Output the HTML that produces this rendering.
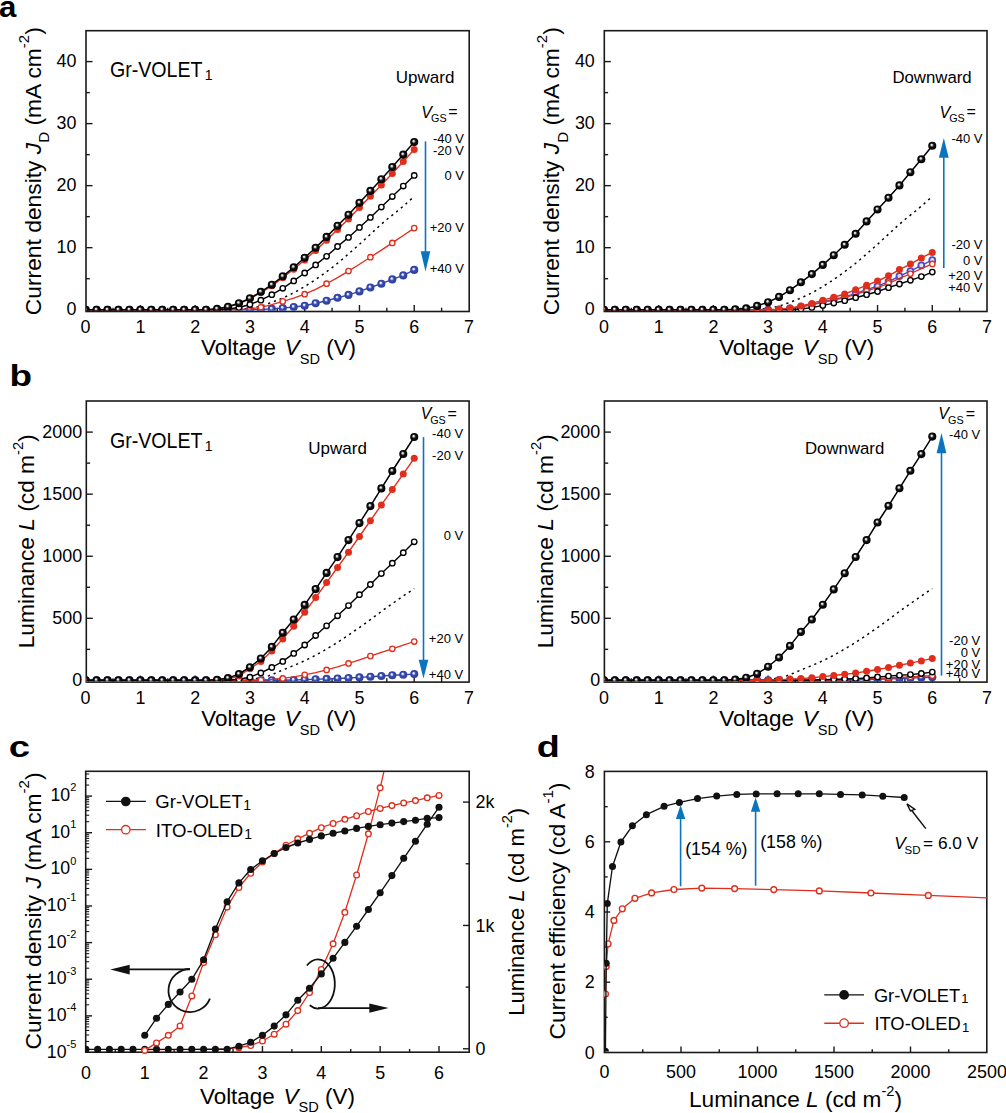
<!DOCTYPE html><html><head><meta charset="utf-8"><style>html,body{margin:0;padding:0;background:#fff;overflow:hidden;}svg{display:block;}</style></head><body>
<svg width="1006" height="1113" viewBox="0 0 1006 1113" font-family='"Liberation Sans", sans-serif' fill="#000">
<defs><radialGradient id="gk" cx="0.5" cy="0.5" r="0.5" fx="0.4" fy="0.36"><stop offset="0" stop-color="#fafafa"/><stop offset="0.19" stop-color="#d4d4d4"/><stop offset="0.4" stop-color="#3c3c3c"/><stop offset="0.55" stop-color="#0e0e0e"/><stop offset="1" stop-color="#000"/></radialGradient><radialGradient id="gb" cx="0.5" cy="0.5" r="0.5" fx="0.4" fy="0.36"><stop offset="0" stop-color="#ffffff"/><stop offset="0.2" stop-color="#d8dcf6"/><stop offset="0.42" stop-color="#4e5fbe"/><stop offset="0.55" stop-color="#3447ab"/><stop offset="1" stop-color="#2e3f9f"/></radialGradient></defs>
<rect width="1006" height="1113" fill="#fff"/>
<rect x="86" y="30.7" width="383.2" height="280.8" fill="none" stroke="#1a1a1a" stroke-width="1.6"/>
<line x1="140.37" y1="311.5" x2="140.37" y2="305" stroke="#1a1a1a" stroke-width="1.4" />
<line x1="195.14" y1="311.5" x2="195.14" y2="305" stroke="#1a1a1a" stroke-width="1.4" />
<line x1="249.91" y1="311.5" x2="249.91" y2="305" stroke="#1a1a1a" stroke-width="1.4" />
<line x1="304.68" y1="311.5" x2="304.68" y2="305" stroke="#1a1a1a" stroke-width="1.4" />
<line x1="359.45" y1="311.5" x2="359.45" y2="305" stroke="#1a1a1a" stroke-width="1.4" />
<line x1="414.22" y1="311.5" x2="414.22" y2="305" stroke="#1a1a1a" stroke-width="1.4" />
<line x1="112.98" y1="311.5" x2="112.98" y2="307.7" stroke="#1a1a1a" stroke-width="1.4" />
<line x1="167.75" y1="311.5" x2="167.75" y2="307.7" stroke="#1a1a1a" stroke-width="1.4" />
<line x1="222.53" y1="311.5" x2="222.53" y2="307.7" stroke="#1a1a1a" stroke-width="1.4" />
<line x1="277.3" y1="311.5" x2="277.3" y2="307.7" stroke="#1a1a1a" stroke-width="1.4" />
<line x1="332.06" y1="311.5" x2="332.06" y2="307.7" stroke="#1a1a1a" stroke-width="1.4" />
<line x1="386.84" y1="311.5" x2="386.84" y2="307.7" stroke="#1a1a1a" stroke-width="1.4" />
<line x1="441.61" y1="311.5" x2="441.61" y2="307.7" stroke="#1a1a1a" stroke-width="1.4" />
<line x1="86" y1="309.7" x2="92.5" y2="309.7" stroke="#1a1a1a" stroke-width="1.4" />
<line x1="86" y1="247.67" x2="92.5" y2="247.67" stroke="#1a1a1a" stroke-width="1.4" />
<line x1="86" y1="185.65" x2="92.5" y2="185.65" stroke="#1a1a1a" stroke-width="1.4" />
<line x1="86" y1="123.62" x2="92.5" y2="123.62" stroke="#1a1a1a" stroke-width="1.4" />
<line x1="86" y1="61.6" x2="92.5" y2="61.6" stroke="#1a1a1a" stroke-width="1.4" />
<line x1="86" y1="278.69" x2="89.8" y2="278.69" stroke="#1a1a1a" stroke-width="1.4" />
<line x1="86" y1="216.66" x2="89.8" y2="216.66" stroke="#1a1a1a" stroke-width="1.4" />
<line x1="86" y1="154.64" x2="89.8" y2="154.64" stroke="#1a1a1a" stroke-width="1.4" />
<line x1="86" y1="92.61" x2="89.8" y2="92.61" stroke="#1a1a1a" stroke-width="1.4" />
<text x="85.6" y="333.2" font-size="17.9" text-anchor="middle" >0</text>
<text x="140.37" y="333.2" font-size="17.9" text-anchor="middle" >1</text>
<text x="195.14" y="333.2" font-size="17.9" text-anchor="middle" >2</text>
<text x="249.91" y="333.2" font-size="17.9" text-anchor="middle" >3</text>
<text x="304.68" y="333.2" font-size="17.9" text-anchor="middle" >4</text>
<text x="359.45" y="333.2" font-size="17.9" text-anchor="middle" >5</text>
<text x="414.22" y="333.2" font-size="17.9" text-anchor="middle" >6</text>
<text x="468.99" y="333.2" font-size="17.9" text-anchor="middle" >7</text>
<text x="76.5" y="315" font-size="17.9" text-anchor="end" >0</text>
<text x="76.5" y="252.97" font-size="17.9" text-anchor="end" >10</text>
<text x="76.5" y="190.95" font-size="17.9" text-anchor="end" >20</text>
<text x="76.5" y="128.93" font-size="17.9" text-anchor="end" >30</text>
<text x="76.5" y="66.9" font-size="17.9" text-anchor="end" >40</text>
<text x="278.6" y="355.2" font-size="22.3" text-anchor="middle" textLength="155" lengthAdjust="spacingAndGlyphs">Voltage <tspan font-style="italic" dx="2.5">V</tspan><tspan font-size="14.5" dy="8.5">SD</tspan><tspan dy="-8.5"> (V)</tspan></text>
<text transform="translate(40.9,171.2) rotate(-90)" font-size="22" text-anchor="middle" textLength="288" lengthAdjust="spacingAndGlyphs">Current density <tspan font-style="italic">J</tspan><tspan font-size="14.5" dy="8.3">D</tspan><tspan dy="-8.3"> (mA cm</tspan><tspan font-size="14.5" dy="-11.8">-2</tspan><tspan dy="11.8">)</tspan></text>
<clipPath id="clipaL"><rect x="86" y="30.7" width="383.2" height="280.1"/></clipPath>
<g clip-path="url(#clipaL)">
<path d="M244.43,309.07 L247.17,308.7 L249.91,308.27 L252.65,307.79 L255.39,307.29 L258.13,306.75 L260.86,306.05 L263.6,305.19 L266.34,304.25 L269.08,303.27 L271.82,302.29 L274.56,301.28 L277.29,300.21 L280.03,299.1 L282.77,297.95 L285.51,296.74 L288.25,295.48 L290.99,294.17 L293.73,292.78 L296.46,291.3 L299.2,289.75 L301.94,288.14 L304.68,286.47 L307.42,284.76 L310.16,283.03 L312.9,281.26 L315.63,279.44 L318.37,277.57 L321.11,275.65 L323.85,273.69 L326.59,271.68 L329.33,269.64 L332.06,267.55 L334.8,265.43 L337.54,263.25 L340.28,261 L343.02,258.69 L345.76,256.34 L348.5,253.96 L351.23,251.55 L353.97,249.12 L356.71,246.7 L359.45,244.28 L362.19,241.82 L364.93,239.32 L367.67,236.78 L370.4,234.24 L373.14,231.69 L375.88,229.17 L378.62,226.67 L381.36,224.22 L384.1,221.83 L386.83,219.52 L389.57,217.31 L392.31,215.15 L395.05,212.99 L397.79,210.77 L400.53,208.48 L403.27,206.14 L406,203.76 L408.74,201.34 L411.48,198.89 L414.22,196.4" fill="none" stroke="#000" stroke-width="1.5" stroke-dasharray="2.2 3.9"/>
<path d="M85.6,309.7 L96.55,309.7 L107.51,309.7 L118.46,309.7 L129.42,309.7 L140.37,309.7 L151.32,309.7 L162.28,309.7 L173.23,309.7 L184.19,309.7 L195.14,309.7 L206.09,309.7 L217.05,309.7 L228,309.7 L238.96,309.7 L249.91,309.7 L260.86,309.44 L271.82,308.9 L282.77,308.09 L293.73,307 L304.68,305.7 L315.63,303.3 L326.59,300.7 L337.54,297.8 L348.5,294.9 L359.45,291.4 L370.4,287.5 L381.36,283.7 L392.31,279.4 L403.27,275.4 L414.22,269.9" fill="none" stroke="#3448ac" stroke-width="1.4" stroke-linejoin="round"/>
<circle cx="85.6" cy="309.7" r="4.05" fill="url(#gb)"/>
<circle cx="96.55" cy="309.7" r="4.05" fill="url(#gb)"/>
<circle cx="107.51" cy="309.7" r="4.05" fill="url(#gb)"/>
<circle cx="118.46" cy="309.7" r="4.05" fill="url(#gb)"/>
<circle cx="129.42" cy="309.7" r="4.05" fill="url(#gb)"/>
<circle cx="140.37" cy="309.7" r="4.05" fill="url(#gb)"/>
<circle cx="151.32" cy="309.7" r="4.05" fill="url(#gb)"/>
<circle cx="162.28" cy="309.7" r="4.05" fill="url(#gb)"/>
<circle cx="173.23" cy="309.7" r="4.05" fill="url(#gb)"/>
<circle cx="184.19" cy="309.7" r="4.05" fill="url(#gb)"/>
<circle cx="195.14" cy="309.7" r="4.05" fill="url(#gb)"/>
<circle cx="206.09" cy="309.7" r="4.05" fill="url(#gb)"/>
<circle cx="217.05" cy="309.7" r="4.05" fill="url(#gb)"/>
<circle cx="228" cy="309.7" r="4.05" fill="url(#gb)"/>
<circle cx="238.96" cy="309.7" r="4.05" fill="url(#gb)"/>
<circle cx="249.91" cy="309.7" r="4.05" fill="url(#gb)"/>
<circle cx="260.86" cy="309.44" r="4.05" fill="url(#gb)"/>
<circle cx="271.82" cy="308.9" r="4.05" fill="url(#gb)"/>
<circle cx="282.77" cy="308.09" r="4.05" fill="url(#gb)"/>
<circle cx="293.73" cy="307" r="4.05" fill="url(#gb)"/>
<circle cx="304.68" cy="305.7" r="4.05" fill="url(#gb)"/>
<circle cx="315.63" cy="303.3" r="4.05" fill="url(#gb)"/>
<circle cx="326.59" cy="300.7" r="4.05" fill="url(#gb)"/>
<circle cx="337.54" cy="297.8" r="4.05" fill="url(#gb)"/>
<circle cx="348.5" cy="294.9" r="4.05" fill="url(#gb)"/>
<circle cx="359.45" cy="291.4" r="4.05" fill="url(#gb)"/>
<circle cx="370.4" cy="287.5" r="4.05" fill="url(#gb)"/>
<circle cx="381.36" cy="283.7" r="4.05" fill="url(#gb)"/>
<circle cx="392.31" cy="279.4" r="4.05" fill="url(#gb)"/>
<circle cx="403.27" cy="275.4" r="4.05" fill="url(#gb)"/>
<circle cx="414.22" cy="269.9" r="4.05" fill="url(#gb)"/>
<path d="M85.6,309.7 L96.55,309.7 L107.51,309.7 L118.46,309.7 L129.42,309.7 L140.37,309.7 L151.32,309.7 L162.28,309.7 L173.23,309.7 L184.19,309.7 L195.14,309.7 L206.09,309.7 L217.05,309.7 L228,309.7 L238.96,309.7 L249.91,308.93 L260.86,307.3 L271.82,304.73 L282.77,301.4 L293.73,298.06 L304.68,294.2 L315.63,289.31 L326.59,283.7 L337.54,277.62 L348.5,271.1 L359.45,264.26 L370.4,257.2 L381.36,250.11 L392.31,242.9 L403.27,235.56 L414.22,228.1" fill="none" stroke="#df2e1c" stroke-width="1.3" stroke-linejoin="round"/>
<circle cx="85.6" cy="309.7" r="2.7" fill="#fff" stroke="#df2e1c" stroke-width="1.35"/>
<circle cx="107.51" cy="309.7" r="2.7" fill="#fff" stroke="#df2e1c" stroke-width="1.35"/>
<circle cx="129.42" cy="309.7" r="2.7" fill="#fff" stroke="#df2e1c" stroke-width="1.35"/>
<circle cx="151.32" cy="309.7" r="2.7" fill="#fff" stroke="#df2e1c" stroke-width="1.35"/>
<circle cx="173.23" cy="309.7" r="2.7" fill="#fff" stroke="#df2e1c" stroke-width="1.35"/>
<circle cx="195.14" cy="309.7" r="2.7" fill="#fff" stroke="#df2e1c" stroke-width="1.35"/>
<circle cx="217.05" cy="309.7" r="2.7" fill="#fff" stroke="#df2e1c" stroke-width="1.35"/>
<circle cx="238.96" cy="309.7" r="2.7" fill="#fff" stroke="#df2e1c" stroke-width="1.35"/>
<circle cx="260.86" cy="307.3" r="2.7" fill="#fff" stroke="#df2e1c" stroke-width="1.35"/>
<circle cx="282.77" cy="301.4" r="2.7" fill="#fff" stroke="#df2e1c" stroke-width="1.35"/>
<circle cx="304.68" cy="294.2" r="2.7" fill="#fff" stroke="#df2e1c" stroke-width="1.35"/>
<circle cx="326.59" cy="283.7" r="2.7" fill="#fff" stroke="#df2e1c" stroke-width="1.35"/>
<circle cx="348.5" cy="271.1" r="2.7" fill="#fff" stroke="#df2e1c" stroke-width="1.35"/>
<circle cx="370.4" cy="257.2" r="2.7" fill="#fff" stroke="#df2e1c" stroke-width="1.35"/>
<circle cx="392.31" cy="242.9" r="2.7" fill="#fff" stroke="#df2e1c" stroke-width="1.35"/>
<circle cx="414.22" cy="228.1" r="2.7" fill="#fff" stroke="#df2e1c" stroke-width="1.35"/>
<path d="M85.6,309.7 L96.55,309.7 L107.51,309.7 L118.46,309.7 L129.42,309.7 L140.37,309.7 L151.32,309.7 L162.28,309.7 L173.23,309.7 L184.19,309.7 L195.14,309.7 L206.09,309.7 L217.05,309.7 L228,309 L238.96,307.5 L249.91,304.5 L260.86,300.2 L271.82,294.7 L282.77,288.3 L293.73,280.9 L304.68,273 L315.63,264.9 L326.59,256.3 L337.54,246.5 L348.5,237.4 L359.45,227.4 L370.4,217.4 L381.36,207.1 L392.31,196.6 L403.27,186.1 L414.22,175.4" fill="none" stroke="#000" stroke-width="1.4" stroke-linejoin="round"/>
<circle cx="85.6" cy="309.7" r="2.7" fill="#fff" stroke="#000" stroke-width="1.4"/>
<circle cx="96.55" cy="309.7" r="2.7" fill="#fff" stroke="#000" stroke-width="1.4"/>
<circle cx="107.51" cy="309.7" r="2.7" fill="#fff" stroke="#000" stroke-width="1.4"/>
<circle cx="118.46" cy="309.7" r="2.7" fill="#fff" stroke="#000" stroke-width="1.4"/>
<circle cx="129.42" cy="309.7" r="2.7" fill="#fff" stroke="#000" stroke-width="1.4"/>
<circle cx="140.37" cy="309.7" r="2.7" fill="#fff" stroke="#000" stroke-width="1.4"/>
<circle cx="151.32" cy="309.7" r="2.7" fill="#fff" stroke="#000" stroke-width="1.4"/>
<circle cx="162.28" cy="309.7" r="2.7" fill="#fff" stroke="#000" stroke-width="1.4"/>
<circle cx="173.23" cy="309.7" r="2.7" fill="#fff" stroke="#000" stroke-width="1.4"/>
<circle cx="184.19" cy="309.7" r="2.7" fill="#fff" stroke="#000" stroke-width="1.4"/>
<circle cx="195.14" cy="309.7" r="2.7" fill="#fff" stroke="#000" stroke-width="1.4"/>
<circle cx="206.09" cy="309.7" r="2.7" fill="#fff" stroke="#000" stroke-width="1.4"/>
<circle cx="217.05" cy="309.7" r="2.7" fill="#fff" stroke="#000" stroke-width="1.4"/>
<circle cx="228" cy="309" r="2.7" fill="#fff" stroke="#000" stroke-width="1.4"/>
<circle cx="238.96" cy="307.5" r="2.7" fill="#fff" stroke="#000" stroke-width="1.4"/>
<circle cx="249.91" cy="304.5" r="2.7" fill="#fff" stroke="#000" stroke-width="1.4"/>
<circle cx="260.86" cy="300.2" r="2.7" fill="#fff" stroke="#000" stroke-width="1.4"/>
<circle cx="271.82" cy="294.7" r="2.7" fill="#fff" stroke="#000" stroke-width="1.4"/>
<circle cx="282.77" cy="288.3" r="2.7" fill="#fff" stroke="#000" stroke-width="1.4"/>
<circle cx="293.73" cy="280.9" r="2.7" fill="#fff" stroke="#000" stroke-width="1.4"/>
<circle cx="304.68" cy="273" r="2.7" fill="#fff" stroke="#000" stroke-width="1.4"/>
<circle cx="315.63" cy="264.9" r="2.7" fill="#fff" stroke="#000" stroke-width="1.4"/>
<circle cx="326.59" cy="256.3" r="2.7" fill="#fff" stroke="#000" stroke-width="1.4"/>
<circle cx="337.54" cy="246.5" r="2.7" fill="#fff" stroke="#000" stroke-width="1.4"/>
<circle cx="348.5" cy="237.4" r="2.7" fill="#fff" stroke="#000" stroke-width="1.4"/>
<circle cx="359.45" cy="227.4" r="2.7" fill="#fff" stroke="#000" stroke-width="1.4"/>
<circle cx="370.4" cy="217.4" r="2.7" fill="#fff" stroke="#000" stroke-width="1.4"/>
<circle cx="381.36" cy="207.1" r="2.7" fill="#fff" stroke="#000" stroke-width="1.4"/>
<circle cx="392.31" cy="196.6" r="2.7" fill="#fff" stroke="#000" stroke-width="1.4"/>
<circle cx="403.27" cy="186.1" r="2.7" fill="#fff" stroke="#000" stroke-width="1.4"/>
<circle cx="414.22" cy="175.4" r="2.7" fill="#fff" stroke="#000" stroke-width="1.4"/>
<path d="M85.6,309.7 L96.55,309.7 L107.51,309.7 L118.46,309.7 L129.42,309.7 L140.37,309.7 L151.32,309.7 L162.28,309.7 L173.23,309.7 L184.19,309.7 L195.14,309.7 L206.09,309.7 L217.05,308.84 L228,306.93 L238.96,303.49 L249.91,298.81 L260.86,292.61 L271.82,285.82 L282.77,277.8 L293.73,269.21 L304.68,260.04 L315.63,250.49 L326.59,240.18 L337.54,229.48 L348.5,218.97 L359.45,207.61 L370.4,196.25 L381.36,185.07 L392.31,173.42 L403.27,161.58 L414.22,149.55" fill="none" stroke="#df2e1c" stroke-width="1.4" stroke-linejoin="round"/>
<circle cx="85.6" cy="309.7" r="3.5" fill="#df2e1c"/>
<circle cx="96.55" cy="309.7" r="3.5" fill="#df2e1c"/>
<circle cx="107.51" cy="309.7" r="3.5" fill="#df2e1c"/>
<circle cx="118.46" cy="309.7" r="3.5" fill="#df2e1c"/>
<circle cx="129.42" cy="309.7" r="3.5" fill="#df2e1c"/>
<circle cx="140.37" cy="309.7" r="3.5" fill="#df2e1c"/>
<circle cx="151.32" cy="309.7" r="3.5" fill="#df2e1c"/>
<circle cx="162.28" cy="309.7" r="3.5" fill="#df2e1c"/>
<circle cx="173.23" cy="309.7" r="3.5" fill="#df2e1c"/>
<circle cx="184.19" cy="309.7" r="3.5" fill="#df2e1c"/>
<circle cx="195.14" cy="309.7" r="3.5" fill="#df2e1c"/>
<circle cx="206.09" cy="309.7" r="3.5" fill="#df2e1c"/>
<circle cx="217.05" cy="308.84" r="3.5" fill="#df2e1c"/>
<circle cx="228" cy="306.93" r="3.5" fill="#df2e1c"/>
<circle cx="238.96" cy="303.49" r="3.5" fill="#df2e1c"/>
<circle cx="249.91" cy="298.81" r="3.5" fill="#df2e1c"/>
<circle cx="260.86" cy="292.61" r="3.5" fill="#df2e1c"/>
<circle cx="271.82" cy="285.82" r="3.5" fill="#df2e1c"/>
<circle cx="282.77" cy="277.8" r="3.5" fill="#df2e1c"/>
<circle cx="293.73" cy="269.21" r="3.5" fill="#df2e1c"/>
<circle cx="304.68" cy="260.04" r="3.5" fill="#df2e1c"/>
<circle cx="315.63" cy="250.49" r="3.5" fill="#df2e1c"/>
<circle cx="326.59" cy="240.18" r="3.5" fill="#df2e1c"/>
<circle cx="337.54" cy="229.48" r="3.5" fill="#df2e1c"/>
<circle cx="348.5" cy="218.97" r="3.5" fill="#df2e1c"/>
<circle cx="359.45" cy="207.61" r="3.5" fill="#df2e1c"/>
<circle cx="370.4" cy="196.25" r="3.5" fill="#df2e1c"/>
<circle cx="381.36" cy="185.07" r="3.5" fill="#df2e1c"/>
<circle cx="392.31" cy="173.42" r="3.5" fill="#df2e1c"/>
<circle cx="403.27" cy="161.58" r="3.5" fill="#df2e1c"/>
<circle cx="414.22" cy="149.55" r="3.5" fill="#df2e1c"/>
<path d="M85.6,309.7 L96.55,309.7 L107.51,309.7 L118.46,309.7 L129.42,309.7 L140.37,309.7 L151.32,309.7 L162.28,309.7 L173.23,309.7 L184.19,309.7 L195.14,309.7 L206.09,309.7 L217.05,308.8 L228,306.8 L238.96,303.2 L249.91,298.3 L260.86,291.8 L271.82,284.7 L282.77,276.3 L293.73,267.3 L304.68,257.7 L315.63,247.7 L326.59,236.9 L337.54,225.7 L348.5,214.7 L359.45,202.8 L370.4,190.9 L381.36,179.2 L392.31,167 L403.27,154.6 L414.22,142" fill="none" stroke="#000" stroke-width="1.5" stroke-linejoin="round"/>
<circle cx="85.6" cy="309.7" r="4.05" fill="url(#gk)"/>
<circle cx="96.55" cy="309.7" r="4.05" fill="url(#gk)"/>
<circle cx="107.51" cy="309.7" r="4.05" fill="url(#gk)"/>
<circle cx="118.46" cy="309.7" r="4.05" fill="url(#gk)"/>
<circle cx="129.42" cy="309.7" r="4.05" fill="url(#gk)"/>
<circle cx="140.37" cy="309.7" r="4.05" fill="url(#gk)"/>
<circle cx="151.32" cy="309.7" r="4.05" fill="url(#gk)"/>
<circle cx="162.28" cy="309.7" r="4.05" fill="url(#gk)"/>
<circle cx="173.23" cy="309.7" r="4.05" fill="url(#gk)"/>
<circle cx="184.19" cy="309.7" r="4.05" fill="url(#gk)"/>
<circle cx="195.14" cy="309.7" r="4.05" fill="url(#gk)"/>
<circle cx="206.09" cy="309.7" r="4.05" fill="url(#gk)"/>
<circle cx="217.05" cy="308.8" r="4.05" fill="url(#gk)"/>
<circle cx="228" cy="306.8" r="4.05" fill="url(#gk)"/>
<circle cx="238.96" cy="303.2" r="4.05" fill="url(#gk)"/>
<circle cx="249.91" cy="298.3" r="4.05" fill="url(#gk)"/>
<circle cx="260.86" cy="291.8" r="4.05" fill="url(#gk)"/>
<circle cx="271.82" cy="284.7" r="4.05" fill="url(#gk)"/>
<circle cx="282.77" cy="276.3" r="4.05" fill="url(#gk)"/>
<circle cx="293.73" cy="267.3" r="4.05" fill="url(#gk)"/>
<circle cx="304.68" cy="257.7" r="4.05" fill="url(#gk)"/>
<circle cx="315.63" cy="247.7" r="4.05" fill="url(#gk)"/>
<circle cx="326.59" cy="236.9" r="4.05" fill="url(#gk)"/>
<circle cx="337.54" cy="225.7" r="4.05" fill="url(#gk)"/>
<circle cx="348.5" cy="214.7" r="4.05" fill="url(#gk)"/>
<circle cx="359.45" cy="202.8" r="4.05" fill="url(#gk)"/>
<circle cx="370.4" cy="190.9" r="4.05" fill="url(#gk)"/>
<circle cx="381.36" cy="179.2" r="4.05" fill="url(#gk)"/>
<circle cx="392.31" cy="167" r="4.05" fill="url(#gk)"/>
<circle cx="403.27" cy="154.6" r="4.05" fill="url(#gk)"/>
<circle cx="414.22" cy="142" r="4.05" fill="url(#gk)"/>
</g>
<text x="110" y="77" font-size="21.6" textLength="92.5" lengthAdjust="spacingAndGlyphs">Gr-VOLET</text>
<text x="204.8" y="80.2" font-size="14" >1</text>
<text x="395.8" y="82.9" font-size="17" >Upward</text>
<line x1="425.5" y1="141.4" x2="425.5" y2="255" stroke="#0b74bd" stroke-width="1.6" />
<polygon points="420.7,251.3 430.3,251.3 425.5,271.5" fill="#0b74bd"/>
<text x="421.3" y="117.7" font-size="16" font-style="italic">V</text>
<text x="431" y="122.1" font-size="10.8" >GS</text>
<text x="448.3" y="117.2" font-size="16" >=</text>
<text x="464" y="142.7" font-size="13" text-anchor="end" >-40 V</text>
<text x="464" y="154.6" font-size="13" text-anchor="end" >-20 V</text>
<text x="464" y="180.1" font-size="13" text-anchor="end" >0 V</text>
<text x="464" y="231.7" font-size="13" text-anchor="end" >+20 V</text>
<text x="464" y="272.7" font-size="13" text-anchor="end" >+40 V</text>
<rect x="604.3" y="30.7" width="382.7" height="280.8" fill="none" stroke="#1a1a1a" stroke-width="1.6"/>
<line x1="658.63" y1="311.5" x2="658.63" y2="305" stroke="#1a1a1a" stroke-width="1.4" />
<line x1="713.36" y1="311.5" x2="713.36" y2="305" stroke="#1a1a1a" stroke-width="1.4" />
<line x1="768.09" y1="311.5" x2="768.09" y2="305" stroke="#1a1a1a" stroke-width="1.4" />
<line x1="822.82" y1="311.5" x2="822.82" y2="305" stroke="#1a1a1a" stroke-width="1.4" />
<line x1="877.55" y1="311.5" x2="877.55" y2="305" stroke="#1a1a1a" stroke-width="1.4" />
<line x1="932.28" y1="311.5" x2="932.28" y2="305" stroke="#1a1a1a" stroke-width="1.4" />
<line x1="631.26" y1="311.5" x2="631.26" y2="307.7" stroke="#1a1a1a" stroke-width="1.4" />
<line x1="686" y1="311.5" x2="686" y2="307.7" stroke="#1a1a1a" stroke-width="1.4" />
<line x1="740.72" y1="311.5" x2="740.72" y2="307.7" stroke="#1a1a1a" stroke-width="1.4" />
<line x1="795.45" y1="311.5" x2="795.45" y2="307.7" stroke="#1a1a1a" stroke-width="1.4" />
<line x1="850.18" y1="311.5" x2="850.18" y2="307.7" stroke="#1a1a1a" stroke-width="1.4" />
<line x1="904.91" y1="311.5" x2="904.91" y2="307.7" stroke="#1a1a1a" stroke-width="1.4" />
<line x1="959.64" y1="311.5" x2="959.64" y2="307.7" stroke="#1a1a1a" stroke-width="1.4" />
<line x1="604.3" y1="309.7" x2="610.8" y2="309.7" stroke="#1a1a1a" stroke-width="1.4" />
<line x1="604.3" y1="247.67" x2="610.8" y2="247.67" stroke="#1a1a1a" stroke-width="1.4" />
<line x1="604.3" y1="185.65" x2="610.8" y2="185.65" stroke="#1a1a1a" stroke-width="1.4" />
<line x1="604.3" y1="123.62" x2="610.8" y2="123.62" stroke="#1a1a1a" stroke-width="1.4" />
<line x1="604.3" y1="61.6" x2="610.8" y2="61.6" stroke="#1a1a1a" stroke-width="1.4" />
<line x1="604.3" y1="278.69" x2="608.1" y2="278.69" stroke="#1a1a1a" stroke-width="1.4" />
<line x1="604.3" y1="216.66" x2="608.1" y2="216.66" stroke="#1a1a1a" stroke-width="1.4" />
<line x1="604.3" y1="154.64" x2="608.1" y2="154.64" stroke="#1a1a1a" stroke-width="1.4" />
<line x1="604.3" y1="92.61" x2="608.1" y2="92.61" stroke="#1a1a1a" stroke-width="1.4" />
<text x="603.9" y="333.2" font-size="17.9" text-anchor="middle" >0</text>
<text x="658.63" y="333.2" font-size="17.9" text-anchor="middle" >1</text>
<text x="713.36" y="333.2" font-size="17.9" text-anchor="middle" >2</text>
<text x="768.09" y="333.2" font-size="17.9" text-anchor="middle" >3</text>
<text x="822.82" y="333.2" font-size="17.9" text-anchor="middle" >4</text>
<text x="877.55" y="333.2" font-size="17.9" text-anchor="middle" >5</text>
<text x="932.28" y="333.2" font-size="17.9" text-anchor="middle" >6</text>
<text x="987.01" y="333.2" font-size="17.9" text-anchor="middle" >7</text>
<text x="594.8" y="315" font-size="17.9" text-anchor="end" >0</text>
<text x="594.8" y="252.97" font-size="17.9" text-anchor="end" >10</text>
<text x="594.8" y="190.95" font-size="17.9" text-anchor="end" >20</text>
<text x="594.8" y="128.93" font-size="17.9" text-anchor="end" >30</text>
<text x="594.8" y="66.9" font-size="17.9" text-anchor="end" >40</text>
<text x="796.65" y="355.2" font-size="22.3" text-anchor="middle" textLength="155" lengthAdjust="spacingAndGlyphs">Voltage <tspan font-style="italic" dx="2.5">V</tspan><tspan font-size="14.5" dy="8.5">SD</tspan><tspan dy="-8.5"> (V)</tspan></text>
<text transform="translate(559.2,171.2) rotate(-90)" font-size="22" text-anchor="middle" textLength="288" lengthAdjust="spacingAndGlyphs">Current density <tspan font-style="italic">J</tspan><tspan font-size="14.5" dy="8.3">D</tspan><tspan dy="-8.3"> (mA cm</tspan><tspan font-size="14.5" dy="-11.8">-2</tspan><tspan dy="11.8">)</tspan></text>
<clipPath id="clipaR"><rect x="604.3" y="30.7" width="382.7" height="280.1"/></clipPath>
<g clip-path="url(#clipaR)">
<path d="M762.62,309.07 L765.35,308.7 L768.09,308.27 L770.83,307.79 L773.56,307.29 L776.3,306.75 L779.04,306.05 L781.77,305.19 L784.51,304.25 L787.25,303.27 L789.98,302.29 L792.72,301.28 L795.45,300.21 L798.19,299.1 L800.93,297.95 L803.66,296.74 L806.4,295.48 L809.14,294.17 L811.87,292.78 L814.61,291.3 L817.35,289.75 L820.08,288.14 L822.82,286.47 L825.56,284.76 L828.29,283.03 L831.03,281.26 L833.77,279.44 L836.5,277.57 L839.24,275.65 L841.98,273.69 L844.71,271.68 L847.45,269.64 L850.18,267.55 L852.92,265.43 L855.66,263.25 L858.39,261 L861.13,258.69 L863.87,256.34 L866.6,253.96 L869.34,251.55 L872.08,249.12 L874.81,246.7 L877.55,244.28 L880.29,241.82 L883.02,239.32 L885.76,236.78 L888.5,234.24 L891.23,231.69 L893.97,229.17 L896.71,226.67 L899.44,224.22 L902.18,221.83 L904.91,219.52 L907.65,217.31 L910.39,215.15 L913.12,212.99 L915.86,210.77 L918.6,208.48 L921.33,206.14 L924.07,203.76 L926.81,201.34 L929.54,198.89 L932.28,196.4" fill="none" stroke="#000" stroke-width="1.5" stroke-dasharray="2.2 3.9"/>
<path d="M603.9,309.7 L614.85,309.7 L625.79,309.7 L636.74,309.7 L647.68,309.7 L658.63,309.7 L669.58,309.7 L680.52,309.7 L691.47,309.7 L702.41,309.7 L713.36,309.7 L724.31,309.7 L735.25,309.7 L746.2,309.7 L757.14,309.7 L768.09,309.7 L779.04,309.37 L789.98,308.39 L800.93,306.58 L811.87,304.53 L822.82,301.91 L833.77,299.45 L844.71,296.83 L855.66,293.3 L866.6,289.69 L877.55,286.17 L888.5,281.6 L899.44,276.1 L910.39,271.08 L921.33,265.36 L932.28,260.22" fill="none" stroke="#4848c0" stroke-width="1.4" stroke-linejoin="round"/>
<circle cx="603.9" cy="309.7" r="3.0" fill="#e0e0f4" stroke="#4a4ac4" stroke-width="1.8"/>
<circle cx="614.85" cy="309.7" r="3.0" fill="#e0e0f4" stroke="#4a4ac4" stroke-width="1.8"/>
<circle cx="625.79" cy="309.7" r="3.0" fill="#e0e0f4" stroke="#4a4ac4" stroke-width="1.8"/>
<circle cx="636.74" cy="309.7" r="3.0" fill="#e0e0f4" stroke="#4a4ac4" stroke-width="1.8"/>
<circle cx="647.68" cy="309.7" r="3.0" fill="#e0e0f4" stroke="#4a4ac4" stroke-width="1.8"/>
<circle cx="658.63" cy="309.7" r="3.0" fill="#e0e0f4" stroke="#4a4ac4" stroke-width="1.8"/>
<circle cx="669.58" cy="309.7" r="3.0" fill="#e0e0f4" stroke="#4a4ac4" stroke-width="1.8"/>
<circle cx="680.52" cy="309.7" r="3.0" fill="#e0e0f4" stroke="#4a4ac4" stroke-width="1.8"/>
<circle cx="691.47" cy="309.7" r="3.0" fill="#e0e0f4" stroke="#4a4ac4" stroke-width="1.8"/>
<circle cx="702.41" cy="309.7" r="3.0" fill="#e0e0f4" stroke="#4a4ac4" stroke-width="1.8"/>
<circle cx="713.36" cy="309.7" r="3.0" fill="#e0e0f4" stroke="#4a4ac4" stroke-width="1.8"/>
<circle cx="724.31" cy="309.7" r="3.0" fill="#e0e0f4" stroke="#4a4ac4" stroke-width="1.8"/>
<circle cx="735.25" cy="309.7" r="3.0" fill="#e0e0f4" stroke="#4a4ac4" stroke-width="1.8"/>
<circle cx="746.2" cy="309.7" r="3.0" fill="#e0e0f4" stroke="#4a4ac4" stroke-width="1.8"/>
<circle cx="757.14" cy="309.7" r="3.0" fill="#e0e0f4" stroke="#4a4ac4" stroke-width="1.8"/>
<circle cx="768.09" cy="309.7" r="3.0" fill="#e0e0f4" stroke="#4a4ac4" stroke-width="1.8"/>
<circle cx="779.04" cy="309.37" r="3.0" fill="#e0e0f4" stroke="#4a4ac4" stroke-width="1.8"/>
<circle cx="789.98" cy="308.39" r="3.0" fill="#e0e0f4" stroke="#4a4ac4" stroke-width="1.8"/>
<circle cx="800.93" cy="306.58" r="3.0" fill="#e0e0f4" stroke="#4a4ac4" stroke-width="1.8"/>
<circle cx="811.87" cy="304.53" r="3.0" fill="#e0e0f4" stroke="#4a4ac4" stroke-width="1.8"/>
<circle cx="822.82" cy="301.91" r="3.0" fill="#e0e0f4" stroke="#4a4ac4" stroke-width="1.8"/>
<circle cx="833.77" cy="299.45" r="3.0" fill="#e0e0f4" stroke="#4a4ac4" stroke-width="1.8"/>
<circle cx="844.71" cy="296.83" r="3.0" fill="#e0e0f4" stroke="#4a4ac4" stroke-width="1.8"/>
<circle cx="855.66" cy="293.3" r="3.0" fill="#e0e0f4" stroke="#4a4ac4" stroke-width="1.8"/>
<circle cx="866.6" cy="289.69" r="3.0" fill="#e0e0f4" stroke="#4a4ac4" stroke-width="1.8"/>
<circle cx="877.55" cy="286.17" r="3.0" fill="#e0e0f4" stroke="#4a4ac4" stroke-width="1.8"/>
<circle cx="888.5" cy="281.6" r="3.0" fill="#e0e0f4" stroke="#4a4ac4" stroke-width="1.8"/>
<circle cx="899.44" cy="276.1" r="3.0" fill="#e0e0f4" stroke="#4a4ac4" stroke-width="1.8"/>
<circle cx="910.39" cy="271.08" r="3.0" fill="#e0e0f4" stroke="#4a4ac4" stroke-width="1.8"/>
<circle cx="921.33" cy="265.36" r="3.0" fill="#e0e0f4" stroke="#4a4ac4" stroke-width="1.8"/>
<circle cx="932.28" cy="260.22" r="3.0" fill="#e0e0f4" stroke="#4a4ac4" stroke-width="1.8"/>
<path d="M603.9,309.7 L614.85,309.7 L625.79,309.7 L636.74,309.7 L647.68,309.7 L658.63,309.7 L669.58,309.7 L680.52,309.7 L691.47,309.7 L702.41,309.7 L713.36,309.7 L724.31,309.7 L735.25,309.7 L746.2,309.7 L757.14,309.7 L768.09,309.7 L779.04,309.39 L789.98,308.47 L800.93,306.77 L811.87,304.85 L822.82,302.38 L833.77,300.07 L844.71,297.61 L855.66,294.3 L866.6,290.91 L877.55,287.6 L888.5,283.39 L899.44,278.34 L910.39,273.77 L921.33,268.57 L932.28,263.94" fill="none" stroke="#df2e1c" stroke-width="1.3" stroke-linejoin="round"/>
<circle cx="603.9" cy="309.7" r="2.7" fill="#fff" stroke="#df2e1c" stroke-width="1.35"/>
<circle cx="625.79" cy="309.7" r="2.7" fill="#fff" stroke="#df2e1c" stroke-width="1.35"/>
<circle cx="647.68" cy="309.7" r="2.7" fill="#fff" stroke="#df2e1c" stroke-width="1.35"/>
<circle cx="669.58" cy="309.7" r="2.7" fill="#fff" stroke="#df2e1c" stroke-width="1.35"/>
<circle cx="691.47" cy="309.7" r="2.7" fill="#fff" stroke="#df2e1c" stroke-width="1.35"/>
<circle cx="713.36" cy="309.7" r="2.7" fill="#fff" stroke="#df2e1c" stroke-width="1.35"/>
<circle cx="735.25" cy="309.7" r="2.7" fill="#fff" stroke="#df2e1c" stroke-width="1.35"/>
<circle cx="757.14" cy="309.7" r="2.7" fill="#fff" stroke="#df2e1c" stroke-width="1.35"/>
<circle cx="779.04" cy="309.39" r="2.7" fill="#fff" stroke="#df2e1c" stroke-width="1.35"/>
<circle cx="800.93" cy="306.77" r="2.7" fill="#fff" stroke="#df2e1c" stroke-width="1.35"/>
<circle cx="822.82" cy="302.38" r="2.7" fill="#fff" stroke="#df2e1c" stroke-width="1.35"/>
<circle cx="844.71" cy="297.61" r="2.7" fill="#fff" stroke="#df2e1c" stroke-width="1.35"/>
<circle cx="866.6" cy="290.91" r="2.7" fill="#fff" stroke="#df2e1c" stroke-width="1.35"/>
<circle cx="888.5" cy="283.39" r="2.7" fill="#fff" stroke="#df2e1c" stroke-width="1.35"/>
<circle cx="910.39" cy="273.77" r="2.7" fill="#fff" stroke="#df2e1c" stroke-width="1.35"/>
<circle cx="932.28" cy="263.94" r="2.7" fill="#fff" stroke="#df2e1c" stroke-width="1.35"/>
<path d="M603.9,309.7 L614.85,309.7 L625.79,309.7 L636.74,309.7 L647.68,309.7 L658.63,309.7 L669.58,309.7 L680.52,309.7 L691.47,309.7 L702.41,309.7 L713.36,309.7 L724.31,309.7 L735.25,309.7 L746.2,309.7 L757.14,309.7 L768.09,309.7 L779.04,309.7 L789.98,309.7 L800.93,309 L811.87,307.6 L822.82,305.4 L833.77,303.1 L844.71,300.7 L855.66,297.7 L866.6,294.7 L877.55,291.5 L888.5,287.7 L899.44,284 L910.39,280.3 L921.33,276.6 L932.28,272.1" fill="none" stroke="#000" stroke-width="1.4" stroke-linejoin="round"/>
<circle cx="603.9" cy="309.7" r="2.7" fill="#fff" stroke="#000" stroke-width="1.4"/>
<circle cx="614.85" cy="309.7" r="2.7" fill="#fff" stroke="#000" stroke-width="1.4"/>
<circle cx="625.79" cy="309.7" r="2.7" fill="#fff" stroke="#000" stroke-width="1.4"/>
<circle cx="636.74" cy="309.7" r="2.7" fill="#fff" stroke="#000" stroke-width="1.4"/>
<circle cx="647.68" cy="309.7" r="2.7" fill="#fff" stroke="#000" stroke-width="1.4"/>
<circle cx="658.63" cy="309.7" r="2.7" fill="#fff" stroke="#000" stroke-width="1.4"/>
<circle cx="669.58" cy="309.7" r="2.7" fill="#fff" stroke="#000" stroke-width="1.4"/>
<circle cx="680.52" cy="309.7" r="2.7" fill="#fff" stroke="#000" stroke-width="1.4"/>
<circle cx="691.47" cy="309.7" r="2.7" fill="#fff" stroke="#000" stroke-width="1.4"/>
<circle cx="702.41" cy="309.7" r="2.7" fill="#fff" stroke="#000" stroke-width="1.4"/>
<circle cx="713.36" cy="309.7" r="2.7" fill="#fff" stroke="#000" stroke-width="1.4"/>
<circle cx="724.31" cy="309.7" r="2.7" fill="#fff" stroke="#000" stroke-width="1.4"/>
<circle cx="735.25" cy="309.7" r="2.7" fill="#fff" stroke="#000" stroke-width="1.4"/>
<circle cx="746.2" cy="309.7" r="2.7" fill="#fff" stroke="#000" stroke-width="1.4"/>
<circle cx="757.14" cy="309.7" r="2.7" fill="#fff" stroke="#000" stroke-width="1.4"/>
<circle cx="768.09" cy="309.7" r="2.7" fill="#fff" stroke="#000" stroke-width="1.4"/>
<circle cx="779.04" cy="309.7" r="2.7" fill="#fff" stroke="#000" stroke-width="1.4"/>
<circle cx="789.98" cy="309.7" r="2.7" fill="#fff" stroke="#000" stroke-width="1.4"/>
<circle cx="800.93" cy="309" r="2.7" fill="#fff" stroke="#000" stroke-width="1.4"/>
<circle cx="811.87" cy="307.6" r="2.7" fill="#fff" stroke="#000" stroke-width="1.4"/>
<circle cx="822.82" cy="305.4" r="2.7" fill="#fff" stroke="#000" stroke-width="1.4"/>
<circle cx="833.77" cy="303.1" r="2.7" fill="#fff" stroke="#000" stroke-width="1.4"/>
<circle cx="844.71" cy="300.7" r="2.7" fill="#fff" stroke="#000" stroke-width="1.4"/>
<circle cx="855.66" cy="297.7" r="2.7" fill="#fff" stroke="#000" stroke-width="1.4"/>
<circle cx="866.6" cy="294.7" r="2.7" fill="#fff" stroke="#000" stroke-width="1.4"/>
<circle cx="877.55" cy="291.5" r="2.7" fill="#fff" stroke="#000" stroke-width="1.4"/>
<circle cx="888.5" cy="287.7" r="2.7" fill="#fff" stroke="#000" stroke-width="1.4"/>
<circle cx="899.44" cy="284" r="2.7" fill="#fff" stroke="#000" stroke-width="1.4"/>
<circle cx="910.39" cy="280.3" r="2.7" fill="#fff" stroke="#000" stroke-width="1.4"/>
<circle cx="921.33" cy="276.6" r="2.7" fill="#fff" stroke="#000" stroke-width="1.4"/>
<circle cx="932.28" cy="272.1" r="2.7" fill="#fff" stroke="#000" stroke-width="1.4"/>
<path d="M603.9,309.7 L614.85,309.7 L625.79,309.7 L636.74,309.7 L647.68,309.7 L658.63,309.7 L669.58,309.7 L680.52,309.7 L691.47,309.7 L702.41,309.7 L713.36,309.7 L724.31,309.7 L735.25,309.7 L746.2,309.7 L757.14,309.7 L768.09,309.7 L779.04,309.3 L789.98,308.1 L800.93,305.9 L811.87,303.4 L822.82,300.2 L833.77,297.2 L844.71,294 L855.66,289.7 L866.6,285.3 L877.55,281 L888.5,275.8 L899.44,269.6 L910.39,264.1 L921.33,257.9 L932.28,252.5" fill="none" stroke="#df2e1c" stroke-width="1.4" stroke-linejoin="round"/>
<circle cx="603.9" cy="309.7" r="3.5" fill="#df2e1c"/>
<circle cx="614.85" cy="309.7" r="3.5" fill="#df2e1c"/>
<circle cx="625.79" cy="309.7" r="3.5" fill="#df2e1c"/>
<circle cx="636.74" cy="309.7" r="3.5" fill="#df2e1c"/>
<circle cx="647.68" cy="309.7" r="3.5" fill="#df2e1c"/>
<circle cx="658.63" cy="309.7" r="3.5" fill="#df2e1c"/>
<circle cx="669.58" cy="309.7" r="3.5" fill="#df2e1c"/>
<circle cx="680.52" cy="309.7" r="3.5" fill="#df2e1c"/>
<circle cx="691.47" cy="309.7" r="3.5" fill="#df2e1c"/>
<circle cx="702.41" cy="309.7" r="3.5" fill="#df2e1c"/>
<circle cx="713.36" cy="309.7" r="3.5" fill="#df2e1c"/>
<circle cx="724.31" cy="309.7" r="3.5" fill="#df2e1c"/>
<circle cx="735.25" cy="309.7" r="3.5" fill="#df2e1c"/>
<circle cx="746.2" cy="309.7" r="3.5" fill="#df2e1c"/>
<circle cx="757.14" cy="309.7" r="3.5" fill="#df2e1c"/>
<circle cx="768.09" cy="309.7" r="3.5" fill="#df2e1c"/>
<circle cx="779.04" cy="309.3" r="3.5" fill="#df2e1c"/>
<circle cx="789.98" cy="308.1" r="3.5" fill="#df2e1c"/>
<circle cx="800.93" cy="305.9" r="3.5" fill="#df2e1c"/>
<circle cx="811.87" cy="303.4" r="3.5" fill="#df2e1c"/>
<circle cx="822.82" cy="300.2" r="3.5" fill="#df2e1c"/>
<circle cx="833.77" cy="297.2" r="3.5" fill="#df2e1c"/>
<circle cx="844.71" cy="294" r="3.5" fill="#df2e1c"/>
<circle cx="855.66" cy="289.7" r="3.5" fill="#df2e1c"/>
<circle cx="866.6" cy="285.3" r="3.5" fill="#df2e1c"/>
<circle cx="877.55" cy="281" r="3.5" fill="#df2e1c"/>
<circle cx="888.5" cy="275.8" r="3.5" fill="#df2e1c"/>
<circle cx="899.44" cy="269.6" r="3.5" fill="#df2e1c"/>
<circle cx="910.39" cy="264.1" r="3.5" fill="#df2e1c"/>
<circle cx="921.33" cy="257.9" r="3.5" fill="#df2e1c"/>
<circle cx="932.28" cy="252.5" r="3.5" fill="#df2e1c"/>
<path d="M603.9,309.7 L614.85,309.7 L625.79,309.7 L636.74,309.7 L647.68,309.7 L658.63,309.7 L669.58,309.7 L680.52,309.7 L691.47,309.7 L702.41,309.7 L713.36,309.7 L724.31,309.7 L735.25,309.3 L746.2,308.4 L757.14,305.9 L768.09,302.2 L779.04,296.9 L789.98,290.2 L800.93,282.3 L811.87,274.1 L822.82,264.9 L833.77,255.2 L844.71,244.8 L855.66,233.8 L866.6,221.4 L877.55,209.5 L888.5,197.8 L899.44,185.4 L910.39,172.2 L921.33,159.3 L932.28,145.8" fill="none" stroke="#000" stroke-width="1.5" stroke-linejoin="round"/>
<circle cx="603.9" cy="309.7" r="4.05" fill="url(#gk)"/>
<circle cx="614.85" cy="309.7" r="4.05" fill="url(#gk)"/>
<circle cx="625.79" cy="309.7" r="4.05" fill="url(#gk)"/>
<circle cx="636.74" cy="309.7" r="4.05" fill="url(#gk)"/>
<circle cx="647.68" cy="309.7" r="4.05" fill="url(#gk)"/>
<circle cx="658.63" cy="309.7" r="4.05" fill="url(#gk)"/>
<circle cx="669.58" cy="309.7" r="4.05" fill="url(#gk)"/>
<circle cx="680.52" cy="309.7" r="4.05" fill="url(#gk)"/>
<circle cx="691.47" cy="309.7" r="4.05" fill="url(#gk)"/>
<circle cx="702.41" cy="309.7" r="4.05" fill="url(#gk)"/>
<circle cx="713.36" cy="309.7" r="4.05" fill="url(#gk)"/>
<circle cx="724.31" cy="309.7" r="4.05" fill="url(#gk)"/>
<circle cx="735.25" cy="309.3" r="4.05" fill="url(#gk)"/>
<circle cx="746.2" cy="308.4" r="4.05" fill="url(#gk)"/>
<circle cx="757.14" cy="305.9" r="4.05" fill="url(#gk)"/>
<circle cx="768.09" cy="302.2" r="4.05" fill="url(#gk)"/>
<circle cx="779.04" cy="296.9" r="4.05" fill="url(#gk)"/>
<circle cx="789.98" cy="290.2" r="4.05" fill="url(#gk)"/>
<circle cx="800.93" cy="282.3" r="4.05" fill="url(#gk)"/>
<circle cx="811.87" cy="274.1" r="4.05" fill="url(#gk)"/>
<circle cx="822.82" cy="264.9" r="4.05" fill="url(#gk)"/>
<circle cx="833.77" cy="255.2" r="4.05" fill="url(#gk)"/>
<circle cx="844.71" cy="244.8" r="4.05" fill="url(#gk)"/>
<circle cx="855.66" cy="233.8" r="4.05" fill="url(#gk)"/>
<circle cx="866.6" cy="221.4" r="4.05" fill="url(#gk)"/>
<circle cx="877.55" cy="209.5" r="4.05" fill="url(#gk)"/>
<circle cx="888.5" cy="197.8" r="4.05" fill="url(#gk)"/>
<circle cx="899.44" cy="185.4" r="4.05" fill="url(#gk)"/>
<circle cx="910.39" cy="172.2" r="4.05" fill="url(#gk)"/>
<circle cx="921.33" cy="159.3" r="4.05" fill="url(#gk)"/>
<circle cx="932.28" cy="145.8" r="4.05" fill="url(#gk)"/>
</g>
<text x="892.4" y="83" font-size="16.8" >Downward</text>
<line x1="943.8" y1="156.5" x2="943.8" y2="267.9" stroke="#0b74bd" stroke-width="1.6" />
<polygon points="938.9,157.8 948.7,157.8 943.8,137.9" fill="#0b74bd"/>
<text x="939.5" y="117.7" font-size="16" font-style="italic">V</text>
<text x="949.2" y="122.1" font-size="10.8" >GS</text>
<text x="966.5" y="117.2" font-size="16" >=</text>
<text x="982.5" y="142.9" font-size="13" text-anchor="end" >-40 V</text>
<text x="982.5" y="249.2" font-size="13" text-anchor="end" >-20 V</text>
<text x="982.5" y="265.4" font-size="13" text-anchor="end" >0 V</text>
<text x="982.5" y="280.3" font-size="13" text-anchor="end" >+20 V</text>
<text x="982.5" y="291.5" font-size="13" text-anchor="end" >+40 V</text>
<text transform="translate(-1,16.6) scale(1.06,1)" font-size="29.5" font-weight="bold">a</text>
<text transform="translate(9.5,386.3) scale(1.25,1)" font-size="29.5" font-weight="bold">b</text>
<text transform="translate(8.8,756.9) scale(1.3,1)" font-size="29.5" font-weight="bold">c</text>
<text transform="translate(536.8,756.9) scale(1.28,1)" font-size="29.5" font-weight="bold">d</text>
<rect x="86.3" y="401" width="382.8" height="281.1" fill="none" stroke="#1a1a1a" stroke-width="1.6"/>
<line x1="140.37" y1="682.1" x2="140.37" y2="675.6" stroke="#1a1a1a" stroke-width="1.4" />
<line x1="195.14" y1="682.1" x2="195.14" y2="675.6" stroke="#1a1a1a" stroke-width="1.4" />
<line x1="249.91" y1="682.1" x2="249.91" y2="675.6" stroke="#1a1a1a" stroke-width="1.4" />
<line x1="304.68" y1="682.1" x2="304.68" y2="675.6" stroke="#1a1a1a" stroke-width="1.4" />
<line x1="359.45" y1="682.1" x2="359.45" y2="675.6" stroke="#1a1a1a" stroke-width="1.4" />
<line x1="414.22" y1="682.1" x2="414.22" y2="675.6" stroke="#1a1a1a" stroke-width="1.4" />
<line x1="112.98" y1="682.1" x2="112.98" y2="678.3" stroke="#1a1a1a" stroke-width="1.4" />
<line x1="167.75" y1="682.1" x2="167.75" y2="678.3" stroke="#1a1a1a" stroke-width="1.4" />
<line x1="222.53" y1="682.1" x2="222.53" y2="678.3" stroke="#1a1a1a" stroke-width="1.4" />
<line x1="277.3" y1="682.1" x2="277.3" y2="678.3" stroke="#1a1a1a" stroke-width="1.4" />
<line x1="332.06" y1="682.1" x2="332.06" y2="678.3" stroke="#1a1a1a" stroke-width="1.4" />
<line x1="386.84" y1="682.1" x2="386.84" y2="678.3" stroke="#1a1a1a" stroke-width="1.4" />
<line x1="441.61" y1="682.1" x2="441.61" y2="678.3" stroke="#1a1a1a" stroke-width="1.4" />
<line x1="86.3" y1="680.4" x2="92.8" y2="680.4" stroke="#1a1a1a" stroke-width="1.4" />
<line x1="86.3" y1="618.32" x2="92.8" y2="618.32" stroke="#1a1a1a" stroke-width="1.4" />
<line x1="86.3" y1="556.25" x2="92.8" y2="556.25" stroke="#1a1a1a" stroke-width="1.4" />
<line x1="86.3" y1="494.17" x2="92.8" y2="494.17" stroke="#1a1a1a" stroke-width="1.4" />
<line x1="86.3" y1="432.1" x2="92.8" y2="432.1" stroke="#1a1a1a" stroke-width="1.4" />
<line x1="86.3" y1="649.36" x2="90.1" y2="649.36" stroke="#1a1a1a" stroke-width="1.4" />
<line x1="86.3" y1="587.29" x2="90.1" y2="587.29" stroke="#1a1a1a" stroke-width="1.4" />
<line x1="86.3" y1="525.21" x2="90.1" y2="525.21" stroke="#1a1a1a" stroke-width="1.4" />
<line x1="86.3" y1="463.14" x2="90.1" y2="463.14" stroke="#1a1a1a" stroke-width="1.4" />
<text x="85.6" y="704.3" font-size="17.9" text-anchor="middle" >0</text>
<text x="140.37" y="704.3" font-size="17.9" text-anchor="middle" >1</text>
<text x="195.14" y="704.3" font-size="17.9" text-anchor="middle" >2</text>
<text x="249.91" y="704.3" font-size="17.9" text-anchor="middle" >3</text>
<text x="304.68" y="704.3" font-size="17.9" text-anchor="middle" >4</text>
<text x="359.45" y="704.3" font-size="17.9" text-anchor="middle" >5</text>
<text x="414.22" y="704.3" font-size="17.9" text-anchor="middle" >6</text>
<text x="468.99" y="704.3" font-size="17.9" text-anchor="middle" >7</text>
<text x="82.1" y="686" font-size="17.9" text-anchor="end" >0</text>
<text x="82.1" y="623.92" font-size="17.9" text-anchor="end" >500</text>
<text x="82.1" y="561.85" font-size="17.9" text-anchor="end" >1000</text>
<text x="82.1" y="499.77" font-size="17.9" text-anchor="end" >1500</text>
<text x="82.1" y="437.7" font-size="17.9" text-anchor="end" >2000</text>
<text x="278.7" y="726.2" font-size="22.3" text-anchor="middle" textLength="155" lengthAdjust="spacingAndGlyphs">Voltage <tspan font-style="italic" dx="2.5">V</tspan><tspan font-size="14.5" dy="8.5">SD</tspan><tspan dy="-8.5"> (V)</tspan></text>
<text transform="translate(34.4,541.3) rotate(-90)" font-size="22.5" text-anchor="middle" textLength="214" lengthAdjust="spacingAndGlyphs">Luminance <tspan font-style="italic">L</tspan> (cd m<tspan font-size="14.5" dy="-11.8">-2</tspan><tspan dy="11.8">)</tspan></text>
<clipPath id="clipbL"><rect x="86.3" y="401" width="382.8" height="280.2"/></clipPath>
<g clip-path="url(#clipbL)">
<path d="M249.91,679.64 L252.65,679.25 L255.39,678.79 L258.13,678.28 L260.86,677.74 L263.6,677.18 L266.34,676.5 L269.08,675.63 L271.82,674.63 L274.56,673.52 L277.29,672.36 L280.03,671.18 L282.77,670.02 L285.51,668.92 L288.25,667.81 L290.99,666.68 L293.73,665.54 L296.46,664.37 L299.2,663.18 L301.94,661.96 L304.68,660.7 L307.42,659.4 L310.16,658.06 L312.9,656.66 L315.63,655.21 L318.37,653.71 L321.11,652.18 L323.85,650.6 L326.59,648.99 L329.33,647.36 L332.06,645.71 L334.8,644.03 L337.54,642.32 L340.28,640.57 L343.02,638.78 L345.76,636.96 L348.5,635.11 L351.23,633.24 L353.97,631.35 L356.71,629.44 L359.45,627.53 L362.19,625.6 L364.93,623.62 L367.67,621.62 L370.4,619.59 L373.14,617.55 L375.88,615.51 L378.62,613.48 L381.36,611.47 L384.1,609.48 L386.83,607.53 L389.57,605.59 L392.31,603.66 L395.05,601.74 L397.79,599.83 L400.53,597.93 L403.27,596.05 L406,594.17 L408.74,592.3 L411.48,590.44 L414.22,588.6" fill="none" stroke="#000" stroke-width="1.5" stroke-dasharray="2.2 3.9"/>
<path d="M85.6,680.3 L96.55,680.3 L107.51,680.3 L118.46,680.3 L129.42,680.3 L140.37,680.3 L151.32,680.3 L162.28,680.3 L173.23,680.3 L184.19,680.3 L195.14,680.3 L206.09,680.3 L217.05,680.3 L228,680.3 L238.96,680.3 L249.91,680.3 L260.86,680.3 L271.82,680.3 L282.77,680.3 L293.73,680.04 L304.68,679.6 L315.63,679.26 L326.59,678.9 L337.54,678.48 L348.5,678 L359.45,677.39 L370.4,676.7 L381.36,675.99 L392.31,675.3 L403.27,674.68 L414.22,674.1" fill="none" stroke="#3448ac" stroke-width="1.4" stroke-linejoin="round"/>
<circle cx="85.6" cy="680.3" r="4.05" fill="url(#gb)"/>
<circle cx="96.55" cy="680.3" r="4.05" fill="url(#gb)"/>
<circle cx="107.51" cy="680.3" r="4.05" fill="url(#gb)"/>
<circle cx="118.46" cy="680.3" r="4.05" fill="url(#gb)"/>
<circle cx="129.42" cy="680.3" r="4.05" fill="url(#gb)"/>
<circle cx="140.37" cy="680.3" r="4.05" fill="url(#gb)"/>
<circle cx="151.32" cy="680.3" r="4.05" fill="url(#gb)"/>
<circle cx="162.28" cy="680.3" r="4.05" fill="url(#gb)"/>
<circle cx="173.23" cy="680.3" r="4.05" fill="url(#gb)"/>
<circle cx="184.19" cy="680.3" r="4.05" fill="url(#gb)"/>
<circle cx="195.14" cy="680.3" r="4.05" fill="url(#gb)"/>
<circle cx="206.09" cy="680.3" r="4.05" fill="url(#gb)"/>
<circle cx="217.05" cy="680.3" r="4.05" fill="url(#gb)"/>
<circle cx="228" cy="680.3" r="4.05" fill="url(#gb)"/>
<circle cx="238.96" cy="680.3" r="4.05" fill="url(#gb)"/>
<circle cx="249.91" cy="680.3" r="4.05" fill="url(#gb)"/>
<circle cx="260.86" cy="680.3" r="4.05" fill="url(#gb)"/>
<circle cx="271.82" cy="680.3" r="4.05" fill="url(#gb)"/>
<circle cx="282.77" cy="680.3" r="4.05" fill="url(#gb)"/>
<circle cx="293.73" cy="680.04" r="4.05" fill="url(#gb)"/>
<circle cx="304.68" cy="679.6" r="4.05" fill="url(#gb)"/>
<circle cx="315.63" cy="679.26" r="4.05" fill="url(#gb)"/>
<circle cx="326.59" cy="678.9" r="4.05" fill="url(#gb)"/>
<circle cx="337.54" cy="678.48" r="4.05" fill="url(#gb)"/>
<circle cx="348.5" cy="678" r="4.05" fill="url(#gb)"/>
<circle cx="359.45" cy="677.39" r="4.05" fill="url(#gb)"/>
<circle cx="370.4" cy="676.7" r="4.05" fill="url(#gb)"/>
<circle cx="381.36" cy="675.99" r="4.05" fill="url(#gb)"/>
<circle cx="392.31" cy="675.3" r="4.05" fill="url(#gb)"/>
<circle cx="403.27" cy="674.68" r="4.05" fill="url(#gb)"/>
<circle cx="414.22" cy="674.1" r="4.05" fill="url(#gb)"/>
<path d="M85.6,680.3 L96.55,680.3 L107.51,680.3 L118.46,680.3 L129.42,680.3 L140.37,680.3 L151.32,680.3 L162.28,680.3 L173.23,680.3 L184.19,680.3 L195.14,680.3 L206.09,680.3 L217.05,680.3 L228,680.3 L238.96,680.3 L249.91,680.3 L260.86,680 L271.82,679.37 L282.77,678.4 L293.73,676.84 L304.68,674.8 L315.63,672.53 L326.59,669.9 L337.54,666.81 L348.5,663.4 L359.45,659.8 L370.4,656.1 L381.36,652.45 L392.31,648.8 L403.27,645.15 L414.22,641.5" fill="none" stroke="#df2e1c" stroke-width="1.3" stroke-linejoin="round"/>
<circle cx="85.6" cy="680.3" r="2.7" fill="#fff" stroke="#df2e1c" stroke-width="1.35"/>
<circle cx="107.51" cy="680.3" r="2.7" fill="#fff" stroke="#df2e1c" stroke-width="1.35"/>
<circle cx="129.42" cy="680.3" r="2.7" fill="#fff" stroke="#df2e1c" stroke-width="1.35"/>
<circle cx="151.32" cy="680.3" r="2.7" fill="#fff" stroke="#df2e1c" stroke-width="1.35"/>
<circle cx="173.23" cy="680.3" r="2.7" fill="#fff" stroke="#df2e1c" stroke-width="1.35"/>
<circle cx="195.14" cy="680.3" r="2.7" fill="#fff" stroke="#df2e1c" stroke-width="1.35"/>
<circle cx="217.05" cy="680.3" r="2.7" fill="#fff" stroke="#df2e1c" stroke-width="1.35"/>
<circle cx="238.96" cy="680.3" r="2.7" fill="#fff" stroke="#df2e1c" stroke-width="1.35"/>
<circle cx="260.86" cy="680" r="2.7" fill="#fff" stroke="#df2e1c" stroke-width="1.35"/>
<circle cx="282.77" cy="678.4" r="2.7" fill="#fff" stroke="#df2e1c" stroke-width="1.35"/>
<circle cx="304.68" cy="674.8" r="2.7" fill="#fff" stroke="#df2e1c" stroke-width="1.35"/>
<circle cx="326.59" cy="669.9" r="2.7" fill="#fff" stroke="#df2e1c" stroke-width="1.35"/>
<circle cx="348.5" cy="663.4" r="2.7" fill="#fff" stroke="#df2e1c" stroke-width="1.35"/>
<circle cx="370.4" cy="656.1" r="2.7" fill="#fff" stroke="#df2e1c" stroke-width="1.35"/>
<circle cx="392.31" cy="648.8" r="2.7" fill="#fff" stroke="#df2e1c" stroke-width="1.35"/>
<circle cx="414.22" cy="641.5" r="2.7" fill="#fff" stroke="#df2e1c" stroke-width="1.35"/>
<path d="M85.6,680.3 L96.55,680.3 L107.51,680.3 L118.46,680.3 L129.42,680.3 L140.37,680.3 L151.32,680.3 L162.28,680.3 L173.23,680.3 L184.19,680.3 L195.14,680.3 L206.09,680.3 L217.05,680.3 L228,680.3 L238.96,679.2 L249.91,677.2 L260.86,672.9 L271.82,667.5 L282.77,661.4 L293.73,653.4 L304.68,645 L315.63,635.5 L326.59,625.8 L337.54,615.8 L348.5,605.6 L359.45,594.7 L370.4,584.5 L381.36,573.6 L392.31,563.2 L403.27,552.7 L414.22,541.8" fill="none" stroke="#000" stroke-width="1.4" stroke-linejoin="round"/>
<circle cx="85.6" cy="680.3" r="2.7" fill="#fff" stroke="#000" stroke-width="1.4"/>
<circle cx="96.55" cy="680.3" r="2.7" fill="#fff" stroke="#000" stroke-width="1.4"/>
<circle cx="107.51" cy="680.3" r="2.7" fill="#fff" stroke="#000" stroke-width="1.4"/>
<circle cx="118.46" cy="680.3" r="2.7" fill="#fff" stroke="#000" stroke-width="1.4"/>
<circle cx="129.42" cy="680.3" r="2.7" fill="#fff" stroke="#000" stroke-width="1.4"/>
<circle cx="140.37" cy="680.3" r="2.7" fill="#fff" stroke="#000" stroke-width="1.4"/>
<circle cx="151.32" cy="680.3" r="2.7" fill="#fff" stroke="#000" stroke-width="1.4"/>
<circle cx="162.28" cy="680.3" r="2.7" fill="#fff" stroke="#000" stroke-width="1.4"/>
<circle cx="173.23" cy="680.3" r="2.7" fill="#fff" stroke="#000" stroke-width="1.4"/>
<circle cx="184.19" cy="680.3" r="2.7" fill="#fff" stroke="#000" stroke-width="1.4"/>
<circle cx="195.14" cy="680.3" r="2.7" fill="#fff" stroke="#000" stroke-width="1.4"/>
<circle cx="206.09" cy="680.3" r="2.7" fill="#fff" stroke="#000" stroke-width="1.4"/>
<circle cx="217.05" cy="680.3" r="2.7" fill="#fff" stroke="#000" stroke-width="1.4"/>
<circle cx="228" cy="680.3" r="2.7" fill="#fff" stroke="#000" stroke-width="1.4"/>
<circle cx="238.96" cy="679.2" r="2.7" fill="#fff" stroke="#000" stroke-width="1.4"/>
<circle cx="249.91" cy="677.2" r="2.7" fill="#fff" stroke="#000" stroke-width="1.4"/>
<circle cx="260.86" cy="672.9" r="2.7" fill="#fff" stroke="#000" stroke-width="1.4"/>
<circle cx="271.82" cy="667.5" r="2.7" fill="#fff" stroke="#000" stroke-width="1.4"/>
<circle cx="282.77" cy="661.4" r="2.7" fill="#fff" stroke="#000" stroke-width="1.4"/>
<circle cx="293.73" cy="653.4" r="2.7" fill="#fff" stroke="#000" stroke-width="1.4"/>
<circle cx="304.68" cy="645" r="2.7" fill="#fff" stroke="#000" stroke-width="1.4"/>
<circle cx="315.63" cy="635.5" r="2.7" fill="#fff" stroke="#000" stroke-width="1.4"/>
<circle cx="326.59" cy="625.8" r="2.7" fill="#fff" stroke="#000" stroke-width="1.4"/>
<circle cx="337.54" cy="615.8" r="2.7" fill="#fff" stroke="#000" stroke-width="1.4"/>
<circle cx="348.5" cy="605.6" r="2.7" fill="#fff" stroke="#000" stroke-width="1.4"/>
<circle cx="359.45" cy="594.7" r="2.7" fill="#fff" stroke="#000" stroke-width="1.4"/>
<circle cx="370.4" cy="584.5" r="2.7" fill="#fff" stroke="#000" stroke-width="1.4"/>
<circle cx="381.36" cy="573.6" r="2.7" fill="#fff" stroke="#000" stroke-width="1.4"/>
<circle cx="392.31" cy="563.2" r="2.7" fill="#fff" stroke="#000" stroke-width="1.4"/>
<circle cx="403.27" cy="552.7" r="2.7" fill="#fff" stroke="#000" stroke-width="1.4"/>
<circle cx="414.22" cy="541.8" r="2.7" fill="#fff" stroke="#000" stroke-width="1.4"/>
<path d="M85.6,680.3 L96.55,680.3 L107.51,680.3 L118.46,680.3 L129.42,680.3 L140.37,680.3 L151.32,680.3 L162.28,680.3 L173.23,680.3 L184.19,680.3 L195.14,680.3 L206.09,680.3 L217.05,680.3 L228,679 L238.96,676 L249.91,668.7 L260.86,661.4 L271.82,651 L282.77,638.9 L293.73,626.3 L304.68,612.2 L315.63,597.6 L326.59,582.6 L337.54,567.5 L348.5,552.2 L359.45,536.5 L370.4,520.7 L381.36,504.9 L392.31,489.6 L403.27,473.9 L414.22,458.3" fill="none" stroke="#df2e1c" stroke-width="1.4" stroke-linejoin="round"/>
<circle cx="85.6" cy="680.3" r="3.5" fill="#df2e1c"/>
<circle cx="96.55" cy="680.3" r="3.5" fill="#df2e1c"/>
<circle cx="107.51" cy="680.3" r="3.5" fill="#df2e1c"/>
<circle cx="118.46" cy="680.3" r="3.5" fill="#df2e1c"/>
<circle cx="129.42" cy="680.3" r="3.5" fill="#df2e1c"/>
<circle cx="140.37" cy="680.3" r="3.5" fill="#df2e1c"/>
<circle cx="151.32" cy="680.3" r="3.5" fill="#df2e1c"/>
<circle cx="162.28" cy="680.3" r="3.5" fill="#df2e1c"/>
<circle cx="173.23" cy="680.3" r="3.5" fill="#df2e1c"/>
<circle cx="184.19" cy="680.3" r="3.5" fill="#df2e1c"/>
<circle cx="195.14" cy="680.3" r="3.5" fill="#df2e1c"/>
<circle cx="206.09" cy="680.3" r="3.5" fill="#df2e1c"/>
<circle cx="217.05" cy="680.3" r="3.5" fill="#df2e1c"/>
<circle cx="228" cy="679" r="3.5" fill="#df2e1c"/>
<circle cx="238.96" cy="676" r="3.5" fill="#df2e1c"/>
<circle cx="249.91" cy="668.7" r="3.5" fill="#df2e1c"/>
<circle cx="260.86" cy="661.4" r="3.5" fill="#df2e1c"/>
<circle cx="271.82" cy="651" r="3.5" fill="#df2e1c"/>
<circle cx="282.77" cy="638.9" r="3.5" fill="#df2e1c"/>
<circle cx="293.73" cy="626.3" r="3.5" fill="#df2e1c"/>
<circle cx="304.68" cy="612.2" r="3.5" fill="#df2e1c"/>
<circle cx="315.63" cy="597.6" r="3.5" fill="#df2e1c"/>
<circle cx="326.59" cy="582.6" r="3.5" fill="#df2e1c"/>
<circle cx="337.54" cy="567.5" r="3.5" fill="#df2e1c"/>
<circle cx="348.5" cy="552.2" r="3.5" fill="#df2e1c"/>
<circle cx="359.45" cy="536.5" r="3.5" fill="#df2e1c"/>
<circle cx="370.4" cy="520.7" r="3.5" fill="#df2e1c"/>
<circle cx="381.36" cy="504.9" r="3.5" fill="#df2e1c"/>
<circle cx="392.31" cy="489.6" r="3.5" fill="#df2e1c"/>
<circle cx="403.27" cy="473.9" r="3.5" fill="#df2e1c"/>
<circle cx="414.22" cy="458.3" r="3.5" fill="#df2e1c"/>
<path d="M85.6,680.3 L96.55,680.3 L107.51,680.3 L118.46,680.3 L129.42,680.3 L140.37,680.3 L151.32,680.3 L162.28,680.3 L173.23,680.3 L184.19,680.3 L195.14,680.3 L206.09,680.3 L217.05,679.8 L228,678.1 L238.96,674 L249.91,667.2 L260.86,658.5 L271.82,646.9 L282.77,632.8 L293.73,619.5 L304.68,604.9 L315.63,589.1 L326.59,572.9 L337.54,557.1 L348.5,540.1 L359.45,523.1 L370.4,506.1 L381.36,488.4 L392.31,471 L403.27,454 L414.22,437" fill="none" stroke="#000" stroke-width="1.5" stroke-linejoin="round"/>
<circle cx="85.6" cy="680.3" r="4.05" fill="url(#gk)"/>
<circle cx="96.55" cy="680.3" r="4.05" fill="url(#gk)"/>
<circle cx="107.51" cy="680.3" r="4.05" fill="url(#gk)"/>
<circle cx="118.46" cy="680.3" r="4.05" fill="url(#gk)"/>
<circle cx="129.42" cy="680.3" r="4.05" fill="url(#gk)"/>
<circle cx="140.37" cy="680.3" r="4.05" fill="url(#gk)"/>
<circle cx="151.32" cy="680.3" r="4.05" fill="url(#gk)"/>
<circle cx="162.28" cy="680.3" r="4.05" fill="url(#gk)"/>
<circle cx="173.23" cy="680.3" r="4.05" fill="url(#gk)"/>
<circle cx="184.19" cy="680.3" r="4.05" fill="url(#gk)"/>
<circle cx="195.14" cy="680.3" r="4.05" fill="url(#gk)"/>
<circle cx="206.09" cy="680.3" r="4.05" fill="url(#gk)"/>
<circle cx="217.05" cy="679.8" r="4.05" fill="url(#gk)"/>
<circle cx="228" cy="678.1" r="4.05" fill="url(#gk)"/>
<circle cx="238.96" cy="674" r="4.05" fill="url(#gk)"/>
<circle cx="249.91" cy="667.2" r="4.05" fill="url(#gk)"/>
<circle cx="260.86" cy="658.5" r="4.05" fill="url(#gk)"/>
<circle cx="271.82" cy="646.9" r="4.05" fill="url(#gk)"/>
<circle cx="282.77" cy="632.8" r="4.05" fill="url(#gk)"/>
<circle cx="293.73" cy="619.5" r="4.05" fill="url(#gk)"/>
<circle cx="304.68" cy="604.9" r="4.05" fill="url(#gk)"/>
<circle cx="315.63" cy="589.1" r="4.05" fill="url(#gk)"/>
<circle cx="326.59" cy="572.9" r="4.05" fill="url(#gk)"/>
<circle cx="337.54" cy="557.1" r="4.05" fill="url(#gk)"/>
<circle cx="348.5" cy="540.1" r="4.05" fill="url(#gk)"/>
<circle cx="359.45" cy="523.1" r="4.05" fill="url(#gk)"/>
<circle cx="370.4" cy="506.1" r="4.05" fill="url(#gk)"/>
<circle cx="381.36" cy="488.4" r="4.05" fill="url(#gk)"/>
<circle cx="392.31" cy="471" r="4.05" fill="url(#gk)"/>
<circle cx="403.27" cy="454" r="4.05" fill="url(#gk)"/>
<circle cx="414.22" cy="437" r="4.05" fill="url(#gk)"/>
</g>
<text x="110" y="447.8" font-size="21.6" textLength="92.5" lengthAdjust="spacingAndGlyphs">Gr-VOLET</text>
<text x="204.8" y="450.9" font-size="14" >1</text>
<text x="308.3" y="453.5" font-size="17" >Upward</text>
<line x1="423.5" y1="437.1" x2="423.5" y2="664" stroke="#0b74bd" stroke-width="1.6" />
<polygon points="418.7,659.8 428.3,659.8 423.5,678.6" fill="#0b74bd"/>
<text x="420.7" y="419.2" font-size="16" font-style="italic">V</text>
<text x="430.2" y="423.7" font-size="10.8" >GS</text>
<text x="447.4" y="418.8" font-size="16" >=</text>
<text x="463.2" y="438.4" font-size="13" text-anchor="end" >-40 V</text>
<text x="463.2" y="459.6" font-size="13" text-anchor="end" >-20 V</text>
<text x="463.2" y="540.1" font-size="13" text-anchor="end" >0 V</text>
<text x="463.2" y="643.2" font-size="13" text-anchor="end" >+20 V</text>
<text x="463.2" y="678.6" font-size="13" text-anchor="end" >+40 V</text>
<rect x="604.4" y="401" width="382.6" height="281.1" fill="none" stroke="#1a1a1a" stroke-width="1.6"/>
<line x1="658.63" y1="682.1" x2="658.63" y2="675.6" stroke="#1a1a1a" stroke-width="1.4" />
<line x1="713.36" y1="682.1" x2="713.36" y2="675.6" stroke="#1a1a1a" stroke-width="1.4" />
<line x1="768.09" y1="682.1" x2="768.09" y2="675.6" stroke="#1a1a1a" stroke-width="1.4" />
<line x1="822.82" y1="682.1" x2="822.82" y2="675.6" stroke="#1a1a1a" stroke-width="1.4" />
<line x1="877.55" y1="682.1" x2="877.55" y2="675.6" stroke="#1a1a1a" stroke-width="1.4" />
<line x1="932.28" y1="682.1" x2="932.28" y2="675.6" stroke="#1a1a1a" stroke-width="1.4" />
<line x1="631.26" y1="682.1" x2="631.26" y2="678.3" stroke="#1a1a1a" stroke-width="1.4" />
<line x1="686" y1="682.1" x2="686" y2="678.3" stroke="#1a1a1a" stroke-width="1.4" />
<line x1="740.72" y1="682.1" x2="740.72" y2="678.3" stroke="#1a1a1a" stroke-width="1.4" />
<line x1="795.45" y1="682.1" x2="795.45" y2="678.3" stroke="#1a1a1a" stroke-width="1.4" />
<line x1="850.18" y1="682.1" x2="850.18" y2="678.3" stroke="#1a1a1a" stroke-width="1.4" />
<line x1="904.91" y1="682.1" x2="904.91" y2="678.3" stroke="#1a1a1a" stroke-width="1.4" />
<line x1="959.64" y1="682.1" x2="959.64" y2="678.3" stroke="#1a1a1a" stroke-width="1.4" />
<line x1="604.4" y1="680.4" x2="610.9" y2="680.4" stroke="#1a1a1a" stroke-width="1.4" />
<line x1="604.4" y1="618.32" x2="610.9" y2="618.32" stroke="#1a1a1a" stroke-width="1.4" />
<line x1="604.4" y1="556.25" x2="610.9" y2="556.25" stroke="#1a1a1a" stroke-width="1.4" />
<line x1="604.4" y1="494.17" x2="610.9" y2="494.17" stroke="#1a1a1a" stroke-width="1.4" />
<line x1="604.4" y1="432.1" x2="610.9" y2="432.1" stroke="#1a1a1a" stroke-width="1.4" />
<line x1="604.4" y1="649.36" x2="608.2" y2="649.36" stroke="#1a1a1a" stroke-width="1.4" />
<line x1="604.4" y1="587.29" x2="608.2" y2="587.29" stroke="#1a1a1a" stroke-width="1.4" />
<line x1="604.4" y1="525.21" x2="608.2" y2="525.21" stroke="#1a1a1a" stroke-width="1.4" />
<line x1="604.4" y1="463.14" x2="608.2" y2="463.14" stroke="#1a1a1a" stroke-width="1.4" />
<text x="603.9" y="704.3" font-size="17.9" text-anchor="middle" >0</text>
<text x="658.63" y="704.3" font-size="17.9" text-anchor="middle" >1</text>
<text x="713.36" y="704.3" font-size="17.9" text-anchor="middle" >2</text>
<text x="768.09" y="704.3" font-size="17.9" text-anchor="middle" >3</text>
<text x="822.82" y="704.3" font-size="17.9" text-anchor="middle" >4</text>
<text x="877.55" y="704.3" font-size="17.9" text-anchor="middle" >5</text>
<text x="932.28" y="704.3" font-size="17.9" text-anchor="middle" >6</text>
<text x="987.01" y="704.3" font-size="17.9" text-anchor="middle" >7</text>
<text x="600.2" y="686" font-size="17.9" text-anchor="end" >0</text>
<text x="600.2" y="623.92" font-size="17.9" text-anchor="end" >500</text>
<text x="600.2" y="561.85" font-size="17.9" text-anchor="end" >1000</text>
<text x="600.2" y="499.77" font-size="17.9" text-anchor="end" >1500</text>
<text x="600.2" y="437.7" font-size="17.9" text-anchor="end" >2000</text>
<text x="796.7" y="726.2" font-size="22.3" text-anchor="middle" textLength="155" lengthAdjust="spacingAndGlyphs">Voltage <tspan font-style="italic" dx="2.5">V</tspan><tspan font-size="14.5" dy="8.5">SD</tspan><tspan dy="-8.5"> (V)</tspan></text>
<text transform="translate(552.5,541.3) rotate(-90)" font-size="22.5" text-anchor="middle" textLength="214" lengthAdjust="spacingAndGlyphs">Luminance <tspan font-style="italic">L</tspan> (cd m<tspan font-size="14.5" dy="-11.8">-2</tspan><tspan dy="11.8">)</tspan></text>
<clipPath id="clipbR"><rect x="604.4" y="401" width="382.6" height="280.2"/></clipPath>
<g clip-path="url(#clipbR)">
<path d="M768.09,679.64 L770.83,679.25 L773.56,678.79 L776.3,678.28 L779.04,677.74 L781.77,677.18 L784.51,676.5 L787.25,675.63 L789.98,674.63 L792.72,673.52 L795.45,672.36 L798.19,671.18 L800.93,670.02 L803.66,668.92 L806.4,667.81 L809.14,666.68 L811.87,665.54 L814.61,664.37 L817.35,663.18 L820.08,661.96 L822.82,660.7 L825.56,659.4 L828.29,658.06 L831.03,656.66 L833.77,655.21 L836.5,653.71 L839.24,652.18 L841.98,650.6 L844.71,648.99 L847.45,647.36 L850.18,645.71 L852.92,644.03 L855.66,642.32 L858.39,640.57 L861.13,638.78 L863.87,636.96 L866.6,635.11 L869.34,633.24 L872.08,631.35 L874.81,629.44 L877.55,627.53 L880.29,625.6 L883.02,623.62 L885.76,621.62 L888.5,619.59 L891.23,617.55 L893.97,615.51 L896.71,613.48 L899.44,611.47 L902.18,609.48 L904.91,607.53 L907.65,605.59 L910.39,603.66 L913.12,601.74 L915.86,599.83 L918.6,597.93 L921.33,596.05 L924.07,594.17 L926.81,592.3 L929.54,590.44 L932.28,588.6" fill="none" stroke="#000" stroke-width="1.5" stroke-dasharray="2.2 3.9"/>
<path d="M603.9,680.3 L614.85,680.3 L625.79,680.3 L636.74,680.3 L647.68,680.3 L658.63,680.3 L669.58,680.3 L680.52,680.3 L691.47,680.3 L702.41,680.3 L713.36,680.3 L724.31,680.3 L735.25,680.3 L746.2,680.3 L757.14,680.3 L768.09,680.3 L779.04,680.3 L789.98,680.3 L800.93,680.3 L811.87,680.3 L822.82,680.3 L833.77,680.3 L844.71,680.19 L855.66,679.91 L866.6,679.55 L877.55,679.2 L888.5,678.86 L899.44,678.49 L910.39,678.09 L921.33,677.66 L932.28,677.2" fill="none" stroke="#3448ac" stroke-width="1.4" stroke-linejoin="round"/>
<circle cx="603.9" cy="680.3" r="4.05" fill="url(#gb)"/>
<circle cx="614.85" cy="680.3" r="4.05" fill="url(#gb)"/>
<circle cx="625.79" cy="680.3" r="4.05" fill="url(#gb)"/>
<circle cx="636.74" cy="680.3" r="4.05" fill="url(#gb)"/>
<circle cx="647.68" cy="680.3" r="4.05" fill="url(#gb)"/>
<circle cx="658.63" cy="680.3" r="4.05" fill="url(#gb)"/>
<circle cx="669.58" cy="680.3" r="4.05" fill="url(#gb)"/>
<circle cx="680.52" cy="680.3" r="4.05" fill="url(#gb)"/>
<circle cx="691.47" cy="680.3" r="4.05" fill="url(#gb)"/>
<circle cx="702.41" cy="680.3" r="4.05" fill="url(#gb)"/>
<circle cx="713.36" cy="680.3" r="4.05" fill="url(#gb)"/>
<circle cx="724.31" cy="680.3" r="4.05" fill="url(#gb)"/>
<circle cx="735.25" cy="680.3" r="4.05" fill="url(#gb)"/>
<circle cx="746.2" cy="680.3" r="4.05" fill="url(#gb)"/>
<circle cx="757.14" cy="680.3" r="4.05" fill="url(#gb)"/>
<circle cx="768.09" cy="680.3" r="4.05" fill="url(#gb)"/>
<circle cx="779.04" cy="680.3" r="4.05" fill="url(#gb)"/>
<circle cx="789.98" cy="680.3" r="4.05" fill="url(#gb)"/>
<circle cx="800.93" cy="680.3" r="4.05" fill="url(#gb)"/>
<circle cx="811.87" cy="680.3" r="4.05" fill="url(#gb)"/>
<circle cx="822.82" cy="680.3" r="4.05" fill="url(#gb)"/>
<circle cx="833.77" cy="680.3" r="4.05" fill="url(#gb)"/>
<circle cx="844.71" cy="680.19" r="4.05" fill="url(#gb)"/>
<circle cx="855.66" cy="679.91" r="4.05" fill="url(#gb)"/>
<circle cx="866.6" cy="679.55" r="4.05" fill="url(#gb)"/>
<circle cx="877.55" cy="679.2" r="4.05" fill="url(#gb)"/>
<circle cx="888.5" cy="678.86" r="4.05" fill="url(#gb)"/>
<circle cx="899.44" cy="678.49" r="4.05" fill="url(#gb)"/>
<circle cx="910.39" cy="678.09" r="4.05" fill="url(#gb)"/>
<circle cx="921.33" cy="677.66" r="4.05" fill="url(#gb)"/>
<circle cx="932.28" cy="677.2" r="4.05" fill="url(#gb)"/>
<path d="M603.9,680.3 L614.85,680.3 L625.79,680.3 L636.74,680.3 L647.68,680.3 L658.63,680.3 L669.58,680.3 L680.52,680.3 L691.47,680.3 L702.41,680.3 L713.36,680.3 L724.31,680.3 L735.25,680.3 L746.2,680.3 L757.14,680.3 L768.09,680.3 L779.04,680.3 L789.98,680.3 L800.93,680.3 L811.87,680.3 L822.82,680.3 L833.77,680.18 L844.71,679.88 L855.66,679.45 L866.6,678.97 L877.55,678.5 L888.5,678.02 L899.44,677.49 L910.39,676.9 L921.33,676.27 L932.28,675.6" fill="none" stroke="#df2e1c" stroke-width="1.3" stroke-linejoin="round"/>
<circle cx="603.9" cy="680.3" r="2.7" fill="#fff" stroke="#df2e1c" stroke-width="1.35"/>
<circle cx="625.79" cy="680.3" r="2.7" fill="#fff" stroke="#df2e1c" stroke-width="1.35"/>
<circle cx="647.68" cy="680.3" r="2.7" fill="#fff" stroke="#df2e1c" stroke-width="1.35"/>
<circle cx="669.58" cy="680.3" r="2.7" fill="#fff" stroke="#df2e1c" stroke-width="1.35"/>
<circle cx="691.47" cy="680.3" r="2.7" fill="#fff" stroke="#df2e1c" stroke-width="1.35"/>
<circle cx="713.36" cy="680.3" r="2.7" fill="#fff" stroke="#df2e1c" stroke-width="1.35"/>
<circle cx="735.25" cy="680.3" r="2.7" fill="#fff" stroke="#df2e1c" stroke-width="1.35"/>
<circle cx="757.14" cy="680.3" r="2.7" fill="#fff" stroke="#df2e1c" stroke-width="1.35"/>
<circle cx="779.04" cy="680.3" r="2.7" fill="#fff" stroke="#df2e1c" stroke-width="1.35"/>
<circle cx="800.93" cy="680.3" r="2.7" fill="#fff" stroke="#df2e1c" stroke-width="1.35"/>
<circle cx="822.82" cy="680.3" r="2.7" fill="#fff" stroke="#df2e1c" stroke-width="1.35"/>
<circle cx="844.71" cy="679.88" r="2.7" fill="#fff" stroke="#df2e1c" stroke-width="1.35"/>
<circle cx="866.6" cy="678.97" r="2.7" fill="#fff" stroke="#df2e1c" stroke-width="1.35"/>
<circle cx="888.5" cy="678.02" r="2.7" fill="#fff" stroke="#df2e1c" stroke-width="1.35"/>
<circle cx="910.39" cy="676.9" r="2.7" fill="#fff" stroke="#df2e1c" stroke-width="1.35"/>
<circle cx="932.28" cy="675.6" r="2.7" fill="#fff" stroke="#df2e1c" stroke-width="1.35"/>
<path d="M603.9,680.3 L614.85,680.3 L625.79,680.3 L636.74,680.3 L647.68,680.3 L658.63,680.3 L669.58,680.3 L680.52,680.3 L691.47,680.3 L702.41,680.3 L713.36,680.3 L724.31,680.3 L735.25,680.3 L746.2,680.3 L757.14,680.3 L768.09,680.3 L779.04,680.3 L789.98,680.3 L800.93,680.2 L811.87,680 L822.82,679.7 L833.77,679.36 L844.71,679 L855.66,678.6 L866.6,678 L877.55,676.9 L888.5,676.1 L899.44,675.3 L910.39,674.6 L921.33,673.5 L932.28,672.1" fill="none" stroke="#000" stroke-width="1.4" stroke-linejoin="round"/>
<circle cx="603.9" cy="680.3" r="2.7" fill="#fff" stroke="#000" stroke-width="1.4"/>
<circle cx="614.85" cy="680.3" r="2.7" fill="#fff" stroke="#000" stroke-width="1.4"/>
<circle cx="625.79" cy="680.3" r="2.7" fill="#fff" stroke="#000" stroke-width="1.4"/>
<circle cx="636.74" cy="680.3" r="2.7" fill="#fff" stroke="#000" stroke-width="1.4"/>
<circle cx="647.68" cy="680.3" r="2.7" fill="#fff" stroke="#000" stroke-width="1.4"/>
<circle cx="658.63" cy="680.3" r="2.7" fill="#fff" stroke="#000" stroke-width="1.4"/>
<circle cx="669.58" cy="680.3" r="2.7" fill="#fff" stroke="#000" stroke-width="1.4"/>
<circle cx="680.52" cy="680.3" r="2.7" fill="#fff" stroke="#000" stroke-width="1.4"/>
<circle cx="691.47" cy="680.3" r="2.7" fill="#fff" stroke="#000" stroke-width="1.4"/>
<circle cx="702.41" cy="680.3" r="2.7" fill="#fff" stroke="#000" stroke-width="1.4"/>
<circle cx="713.36" cy="680.3" r="2.7" fill="#fff" stroke="#000" stroke-width="1.4"/>
<circle cx="724.31" cy="680.3" r="2.7" fill="#fff" stroke="#000" stroke-width="1.4"/>
<circle cx="735.25" cy="680.3" r="2.7" fill="#fff" stroke="#000" stroke-width="1.4"/>
<circle cx="746.2" cy="680.3" r="2.7" fill="#fff" stroke="#000" stroke-width="1.4"/>
<circle cx="757.14" cy="680.3" r="2.7" fill="#fff" stroke="#000" stroke-width="1.4"/>
<circle cx="768.09" cy="680.3" r="2.7" fill="#fff" stroke="#000" stroke-width="1.4"/>
<circle cx="779.04" cy="680.3" r="2.7" fill="#fff" stroke="#000" stroke-width="1.4"/>
<circle cx="789.98" cy="680.3" r="2.7" fill="#fff" stroke="#000" stroke-width="1.4"/>
<circle cx="800.93" cy="680.2" r="2.7" fill="#fff" stroke="#000" stroke-width="1.4"/>
<circle cx="811.87" cy="680" r="2.7" fill="#fff" stroke="#000" stroke-width="1.4"/>
<circle cx="822.82" cy="679.7" r="2.7" fill="#fff" stroke="#000" stroke-width="1.4"/>
<circle cx="833.77" cy="679.36" r="2.7" fill="#fff" stroke="#000" stroke-width="1.4"/>
<circle cx="844.71" cy="679" r="2.7" fill="#fff" stroke="#000" stroke-width="1.4"/>
<circle cx="855.66" cy="678.6" r="2.7" fill="#fff" stroke="#000" stroke-width="1.4"/>
<circle cx="866.6" cy="678" r="2.7" fill="#fff" stroke="#000" stroke-width="1.4"/>
<circle cx="877.55" cy="676.9" r="2.7" fill="#fff" stroke="#000" stroke-width="1.4"/>
<circle cx="888.5" cy="676.1" r="2.7" fill="#fff" stroke="#000" stroke-width="1.4"/>
<circle cx="899.44" cy="675.3" r="2.7" fill="#fff" stroke="#000" stroke-width="1.4"/>
<circle cx="910.39" cy="674.6" r="2.7" fill="#fff" stroke="#000" stroke-width="1.4"/>
<circle cx="921.33" cy="673.5" r="2.7" fill="#fff" stroke="#000" stroke-width="1.4"/>
<circle cx="932.28" cy="672.1" r="2.7" fill="#fff" stroke="#000" stroke-width="1.4"/>
<path d="M603.9,680.3 L614.85,680.3 L625.79,680.3 L636.74,680.3 L647.68,680.3 L658.63,680.3 L669.58,680.3 L680.52,680.3 L691.47,680.3 L702.41,680.3 L713.36,680.3 L724.31,680.3 L735.25,680.3 L746.2,680.3 L757.14,680.3 L768.09,680.3 L779.04,679.6 L789.98,679.12 L800.93,678.6 L811.87,677.7 L822.82,676.6 L833.77,675.48 L844.71,674.3 L855.66,673.1 L866.6,671.3 L877.55,669.5 L888.5,667.6 L899.44,665.3 L910.39,663.1 L921.33,660.9 L932.28,658.4" fill="none" stroke="#df2e1c" stroke-width="1.4" stroke-linejoin="round"/>
<circle cx="603.9" cy="680.3" r="3.5" fill="#df2e1c"/>
<circle cx="614.85" cy="680.3" r="3.5" fill="#df2e1c"/>
<circle cx="625.79" cy="680.3" r="3.5" fill="#df2e1c"/>
<circle cx="636.74" cy="680.3" r="3.5" fill="#df2e1c"/>
<circle cx="647.68" cy="680.3" r="3.5" fill="#df2e1c"/>
<circle cx="658.63" cy="680.3" r="3.5" fill="#df2e1c"/>
<circle cx="669.58" cy="680.3" r="3.5" fill="#df2e1c"/>
<circle cx="680.52" cy="680.3" r="3.5" fill="#df2e1c"/>
<circle cx="691.47" cy="680.3" r="3.5" fill="#df2e1c"/>
<circle cx="702.41" cy="680.3" r="3.5" fill="#df2e1c"/>
<circle cx="713.36" cy="680.3" r="3.5" fill="#df2e1c"/>
<circle cx="724.31" cy="680.3" r="3.5" fill="#df2e1c"/>
<circle cx="735.25" cy="680.3" r="3.5" fill="#df2e1c"/>
<circle cx="746.2" cy="680.3" r="3.5" fill="#df2e1c"/>
<circle cx="757.14" cy="680.3" r="3.5" fill="#df2e1c"/>
<circle cx="768.09" cy="680.3" r="3.5" fill="#df2e1c"/>
<circle cx="779.04" cy="679.6" r="3.5" fill="#df2e1c"/>
<circle cx="789.98" cy="679.12" r="3.5" fill="#df2e1c"/>
<circle cx="800.93" cy="678.6" r="3.5" fill="#df2e1c"/>
<circle cx="811.87" cy="677.7" r="3.5" fill="#df2e1c"/>
<circle cx="822.82" cy="676.6" r="3.5" fill="#df2e1c"/>
<circle cx="833.77" cy="675.48" r="3.5" fill="#df2e1c"/>
<circle cx="844.71" cy="674.3" r="3.5" fill="#df2e1c"/>
<circle cx="855.66" cy="673.1" r="3.5" fill="#df2e1c"/>
<circle cx="866.6" cy="671.3" r="3.5" fill="#df2e1c"/>
<circle cx="877.55" cy="669.5" r="3.5" fill="#df2e1c"/>
<circle cx="888.5" cy="667.6" r="3.5" fill="#df2e1c"/>
<circle cx="899.44" cy="665.3" r="3.5" fill="#df2e1c"/>
<circle cx="910.39" cy="663.1" r="3.5" fill="#df2e1c"/>
<circle cx="921.33" cy="660.9" r="3.5" fill="#df2e1c"/>
<circle cx="932.28" cy="658.4" r="3.5" fill="#df2e1c"/>
<path d="M603.9,680.3 L614.85,680.3 L625.79,680.3 L636.74,680.3 L647.68,680.3 L658.63,680.3 L669.58,680.3 L680.52,680.3 L691.47,680.3 L702.41,680.3 L713.36,680.3 L724.31,680.3 L735.25,679.6 L746.2,677.7 L757.14,673.7 L768.09,666.7 L779.04,657.5 L789.98,645.9 L800.93,631.9 L811.87,619.5 L822.82,604.7 L833.77,589.4 L844.71,573.2 L855.66,557 L866.6,540.1 L877.55,522.5 L888.5,505.8 L899.44,488.3 L910.39,470.8 L921.33,454.1 L932.28,436.6" fill="none" stroke="#000" stroke-width="1.5" stroke-linejoin="round"/>
<circle cx="603.9" cy="680.3" r="4.05" fill="url(#gk)"/>
<circle cx="614.85" cy="680.3" r="4.05" fill="url(#gk)"/>
<circle cx="625.79" cy="680.3" r="4.05" fill="url(#gk)"/>
<circle cx="636.74" cy="680.3" r="4.05" fill="url(#gk)"/>
<circle cx="647.68" cy="680.3" r="4.05" fill="url(#gk)"/>
<circle cx="658.63" cy="680.3" r="4.05" fill="url(#gk)"/>
<circle cx="669.58" cy="680.3" r="4.05" fill="url(#gk)"/>
<circle cx="680.52" cy="680.3" r="4.05" fill="url(#gk)"/>
<circle cx="691.47" cy="680.3" r="4.05" fill="url(#gk)"/>
<circle cx="702.41" cy="680.3" r="4.05" fill="url(#gk)"/>
<circle cx="713.36" cy="680.3" r="4.05" fill="url(#gk)"/>
<circle cx="724.31" cy="680.3" r="4.05" fill="url(#gk)"/>
<circle cx="735.25" cy="679.6" r="4.05" fill="url(#gk)"/>
<circle cx="746.2" cy="677.7" r="4.05" fill="url(#gk)"/>
<circle cx="757.14" cy="673.7" r="4.05" fill="url(#gk)"/>
<circle cx="768.09" cy="666.7" r="4.05" fill="url(#gk)"/>
<circle cx="779.04" cy="657.5" r="4.05" fill="url(#gk)"/>
<circle cx="789.98" cy="645.9" r="4.05" fill="url(#gk)"/>
<circle cx="800.93" cy="631.9" r="4.05" fill="url(#gk)"/>
<circle cx="811.87" cy="619.5" r="4.05" fill="url(#gk)"/>
<circle cx="822.82" cy="604.7" r="4.05" fill="url(#gk)"/>
<circle cx="833.77" cy="589.4" r="4.05" fill="url(#gk)"/>
<circle cx="844.71" cy="573.2" r="4.05" fill="url(#gk)"/>
<circle cx="855.66" cy="557" r="4.05" fill="url(#gk)"/>
<circle cx="866.6" cy="540.1" r="4.05" fill="url(#gk)"/>
<circle cx="877.55" cy="522.5" r="4.05" fill="url(#gk)"/>
<circle cx="888.5" cy="505.8" r="4.05" fill="url(#gk)"/>
<circle cx="899.44" cy="488.3" r="4.05" fill="url(#gk)"/>
<circle cx="910.39" cy="470.8" r="4.05" fill="url(#gk)"/>
<circle cx="921.33" cy="454.1" r="4.05" fill="url(#gk)"/>
<circle cx="932.28" cy="436.6" r="4.05" fill="url(#gk)"/>
</g>
<text x="805" y="453.8" font-size="16.8" >Downward</text>
<line x1="941.5" y1="452" x2="941.5" y2="675.6" stroke="#0b74bd" stroke-width="1.6" />
<polygon points="936.6,453.3 946.4,453.3 941.5,433.1" fill="#0b74bd"/>
<text x="938.2" y="419.1" font-size="16" font-style="italic">V</text>
<text x="948" y="423.6" font-size="10.8" >GS</text>
<text x="965.8" y="418.7" font-size="16" >=</text>
<text x="980.2" y="439.3" font-size="13" text-anchor="end" >-40 V</text>
<text x="980.2" y="644.6" font-size="13" text-anchor="end" >-20 V</text>
<text x="980.2" y="656.7" font-size="13" text-anchor="end" >0 V</text>
<text x="980.2" y="668.8" font-size="13" text-anchor="end" >+20 V</text>
<text x="980.2" y="678.3" font-size="13" text-anchor="end" >+40 V</text>
<rect x="85.7" y="771.3" width="383.5" height="280.9" fill="none" stroke="#1a1a1a" stroke-width="1.6"/>
<line x1="144.75" y1="1052.2" x2="144.75" y2="1046" stroke="#1a1a1a" stroke-width="1.4" />
<line x1="203.6" y1="1052.2" x2="203.6" y2="1046" stroke="#1a1a1a" stroke-width="1.4" />
<line x1="262.45" y1="1052.2" x2="262.45" y2="1046" stroke="#1a1a1a" stroke-width="1.4" />
<line x1="321.3" y1="1052.2" x2="321.3" y2="1046" stroke="#1a1a1a" stroke-width="1.4" />
<line x1="380.15" y1="1052.2" x2="380.15" y2="1046" stroke="#1a1a1a" stroke-width="1.4" />
<line x1="439" y1="1052.2" x2="439" y2="1046" stroke="#1a1a1a" stroke-width="1.4" />
<line x1="115.33" y1="1052.2" x2="115.33" y2="1048.9" stroke="#1a1a1a" stroke-width="1.4" />
<line x1="174.18" y1="1052.2" x2="174.18" y2="1048.9" stroke="#1a1a1a" stroke-width="1.4" />
<line x1="233.03" y1="1052.2" x2="233.03" y2="1048.9" stroke="#1a1a1a" stroke-width="1.4" />
<line x1="291.88" y1="1052.2" x2="291.88" y2="1048.9" stroke="#1a1a1a" stroke-width="1.4" />
<line x1="350.73" y1="1052.2" x2="350.73" y2="1048.9" stroke="#1a1a1a" stroke-width="1.4" />
<line x1="409.58" y1="1052.2" x2="409.58" y2="1048.9" stroke="#1a1a1a" stroke-width="1.4" />
<line x1="85.7" y1="1041.47" x2="89.2" y2="1041.47" stroke="#1a1a1a" stroke-width="1.1" />
<line x1="85.7" y1="1035.02" x2="89.2" y2="1035.02" stroke="#1a1a1a" stroke-width="1.1" />
<line x1="85.7" y1="1030.45" x2="89.2" y2="1030.45" stroke="#1a1a1a" stroke-width="1.1" />
<line x1="85.7" y1="1026.9" x2="89.2" y2="1026.9" stroke="#1a1a1a" stroke-width="1.1" />
<line x1="85.7" y1="1024" x2="89.2" y2="1024" stroke="#1a1a1a" stroke-width="1.1" />
<line x1="85.7" y1="1021.54" x2="89.2" y2="1021.54" stroke="#1a1a1a" stroke-width="1.1" />
<line x1="85.7" y1="1019.42" x2="89.2" y2="1019.42" stroke="#1a1a1a" stroke-width="1.1" />
<line x1="85.7" y1="1017.55" x2="89.2" y2="1017.55" stroke="#1a1a1a" stroke-width="1.1" />
<line x1="85.7" y1="1015.87" x2="92.1" y2="1015.87" stroke="#1a1a1a" stroke-width="1.4" />
<line x1="85.7" y1="1004.84" x2="89.2" y2="1004.84" stroke="#1a1a1a" stroke-width="1.1" />
<line x1="85.7" y1="998.39" x2="89.2" y2="998.39" stroke="#1a1a1a" stroke-width="1.1" />
<line x1="85.7" y1="993.82" x2="89.2" y2="993.82" stroke="#1a1a1a" stroke-width="1.1" />
<line x1="85.7" y1="990.27" x2="89.2" y2="990.27" stroke="#1a1a1a" stroke-width="1.1" />
<line x1="85.7" y1="987.37" x2="89.2" y2="987.37" stroke="#1a1a1a" stroke-width="1.1" />
<line x1="85.7" y1="984.91" x2="89.2" y2="984.91" stroke="#1a1a1a" stroke-width="1.1" />
<line x1="85.7" y1="982.79" x2="89.2" y2="982.79" stroke="#1a1a1a" stroke-width="1.1" />
<line x1="85.7" y1="980.92" x2="89.2" y2="980.92" stroke="#1a1a1a" stroke-width="1.1" />
<line x1="85.7" y1="979.24" x2="92.1" y2="979.24" stroke="#1a1a1a" stroke-width="1.4" />
<line x1="85.7" y1="968.21" x2="89.2" y2="968.21" stroke="#1a1a1a" stroke-width="1.1" />
<line x1="85.7" y1="961.76" x2="89.2" y2="961.76" stroke="#1a1a1a" stroke-width="1.1" />
<line x1="85.7" y1="957.19" x2="89.2" y2="957.19" stroke="#1a1a1a" stroke-width="1.1" />
<line x1="85.7" y1="953.64" x2="89.2" y2="953.64" stroke="#1a1a1a" stroke-width="1.1" />
<line x1="85.7" y1="950.74" x2="89.2" y2="950.74" stroke="#1a1a1a" stroke-width="1.1" />
<line x1="85.7" y1="948.28" x2="89.2" y2="948.28" stroke="#1a1a1a" stroke-width="1.1" />
<line x1="85.7" y1="946.16" x2="89.2" y2="946.16" stroke="#1a1a1a" stroke-width="1.1" />
<line x1="85.7" y1="944.29" x2="89.2" y2="944.29" stroke="#1a1a1a" stroke-width="1.1" />
<line x1="85.7" y1="942.61" x2="92.1" y2="942.61" stroke="#1a1a1a" stroke-width="1.4" />
<line x1="85.7" y1="931.58" x2="89.2" y2="931.58" stroke="#1a1a1a" stroke-width="1.1" />
<line x1="85.7" y1="925.13" x2="89.2" y2="925.13" stroke="#1a1a1a" stroke-width="1.1" />
<line x1="85.7" y1="920.56" x2="89.2" y2="920.56" stroke="#1a1a1a" stroke-width="1.1" />
<line x1="85.7" y1="917.01" x2="89.2" y2="917.01" stroke="#1a1a1a" stroke-width="1.1" />
<line x1="85.7" y1="914.11" x2="89.2" y2="914.11" stroke="#1a1a1a" stroke-width="1.1" />
<line x1="85.7" y1="911.65" x2="89.2" y2="911.65" stroke="#1a1a1a" stroke-width="1.1" />
<line x1="85.7" y1="909.53" x2="89.2" y2="909.53" stroke="#1a1a1a" stroke-width="1.1" />
<line x1="85.7" y1="907.66" x2="89.2" y2="907.66" stroke="#1a1a1a" stroke-width="1.1" />
<line x1="85.7" y1="905.98" x2="92.1" y2="905.98" stroke="#1a1a1a" stroke-width="1.4" />
<line x1="85.7" y1="894.95" x2="89.2" y2="894.95" stroke="#1a1a1a" stroke-width="1.1" />
<line x1="85.7" y1="888.5" x2="89.2" y2="888.5" stroke="#1a1a1a" stroke-width="1.1" />
<line x1="85.7" y1="883.93" x2="89.2" y2="883.93" stroke="#1a1a1a" stroke-width="1.1" />
<line x1="85.7" y1="880.38" x2="89.2" y2="880.38" stroke="#1a1a1a" stroke-width="1.1" />
<line x1="85.7" y1="877.48" x2="89.2" y2="877.48" stroke="#1a1a1a" stroke-width="1.1" />
<line x1="85.7" y1="875.02" x2="89.2" y2="875.02" stroke="#1a1a1a" stroke-width="1.1" />
<line x1="85.7" y1="872.9" x2="89.2" y2="872.9" stroke="#1a1a1a" stroke-width="1.1" />
<line x1="85.7" y1="871.03" x2="89.2" y2="871.03" stroke="#1a1a1a" stroke-width="1.1" />
<line x1="85.7" y1="869.35" x2="92.1" y2="869.35" stroke="#1a1a1a" stroke-width="1.4" />
<line x1="85.7" y1="858.32" x2="89.2" y2="858.32" stroke="#1a1a1a" stroke-width="1.1" />
<line x1="85.7" y1="851.87" x2="89.2" y2="851.87" stroke="#1a1a1a" stroke-width="1.1" />
<line x1="85.7" y1="847.3" x2="89.2" y2="847.3" stroke="#1a1a1a" stroke-width="1.1" />
<line x1="85.7" y1="843.75" x2="89.2" y2="843.75" stroke="#1a1a1a" stroke-width="1.1" />
<line x1="85.7" y1="840.85" x2="89.2" y2="840.85" stroke="#1a1a1a" stroke-width="1.1" />
<line x1="85.7" y1="838.39" x2="89.2" y2="838.39" stroke="#1a1a1a" stroke-width="1.1" />
<line x1="85.7" y1="836.27" x2="89.2" y2="836.27" stroke="#1a1a1a" stroke-width="1.1" />
<line x1="85.7" y1="834.4" x2="89.2" y2="834.4" stroke="#1a1a1a" stroke-width="1.1" />
<line x1="85.7" y1="832.72" x2="92.1" y2="832.72" stroke="#1a1a1a" stroke-width="1.4" />
<line x1="85.7" y1="821.69" x2="89.2" y2="821.69" stroke="#1a1a1a" stroke-width="1.1" />
<line x1="85.7" y1="815.24" x2="89.2" y2="815.24" stroke="#1a1a1a" stroke-width="1.1" />
<line x1="85.7" y1="810.67" x2="89.2" y2="810.67" stroke="#1a1a1a" stroke-width="1.1" />
<line x1="85.7" y1="807.12" x2="89.2" y2="807.12" stroke="#1a1a1a" stroke-width="1.1" />
<line x1="85.7" y1="804.22" x2="89.2" y2="804.22" stroke="#1a1a1a" stroke-width="1.1" />
<line x1="85.7" y1="801.76" x2="89.2" y2="801.76" stroke="#1a1a1a" stroke-width="1.1" />
<line x1="85.7" y1="799.64" x2="89.2" y2="799.64" stroke="#1a1a1a" stroke-width="1.1" />
<line x1="85.7" y1="797.77" x2="89.2" y2="797.77" stroke="#1a1a1a" stroke-width="1.1" />
<line x1="85.7" y1="796.09" x2="92.1" y2="796.09" stroke="#1a1a1a" stroke-width="1.4" />
<line x1="85.7" y1="785.06" x2="89.2" y2="785.06" stroke="#1a1a1a" stroke-width="1.1" />
<line x1="85.7" y1="778.61" x2="89.2" y2="778.61" stroke="#1a1a1a" stroke-width="1.1" />
<line x1="85.7" y1="774.04" x2="89.2" y2="774.04" stroke="#1a1a1a" stroke-width="1.1" />
<line x1="469.2" y1="1048.8" x2="463" y2="1048.8" stroke="#1a1a1a" stroke-width="1.4" />
<line x1="469.2" y1="925.45" x2="463" y2="925.45" stroke="#1a1a1a" stroke-width="1.4" />
<line x1="469.2" y1="802.1" x2="463" y2="802.1" stroke="#1a1a1a" stroke-width="1.4" />
<line x1="469.2" y1="987.12" x2="465.7" y2="987.12" stroke="#1a1a1a" stroke-width="1.4" />
<line x1="469.2" y1="863.77" x2="465.7" y2="863.77" stroke="#1a1a1a" stroke-width="1.4" />
<text x="85.9" y="1078.8" font-size="17.9" text-anchor="middle" >0</text>
<text x="144.75" y="1078.8" font-size="17.9" text-anchor="middle" >1</text>
<text x="203.6" y="1078.8" font-size="17.9" text-anchor="middle" >2</text>
<text x="262.45" y="1078.8" font-size="17.9" text-anchor="middle" >3</text>
<text x="321.3" y="1078.8" font-size="17.9" text-anchor="middle" >4</text>
<text x="380.15" y="1078.8" font-size="17.9" text-anchor="middle" >5</text>
<text x="439" y="1078.8" font-size="17.9" text-anchor="middle" >6</text>
<text x="76.3" y="1057.6" font-size="17.7" text-anchor="end">10<tspan font-size="11" dy="-9.8">-5</tspan></text>
<text x="76.3" y="1020.97" font-size="17.7" text-anchor="end">10<tspan font-size="11" dy="-9.8">-4</tspan></text>
<text x="76.3" y="984.34" font-size="17.7" text-anchor="end">10<tspan font-size="11" dy="-9.8">-3</tspan></text>
<text x="76.3" y="947.71" font-size="17.7" text-anchor="end">10<tspan font-size="11" dy="-9.8">-2</tspan></text>
<text x="76.3" y="911.08" font-size="17.7" text-anchor="end">10<tspan font-size="11" dy="-9.8">-1</tspan></text>
<text x="76.3" y="874.45" font-size="17.7" text-anchor="end">10<tspan font-size="11" dy="-9.8">0</tspan></text>
<text x="76.3" y="837.82" font-size="17.7" text-anchor="end">10<tspan font-size="11" dy="-9.8">1</tspan></text>
<text x="76.3" y="801.19" font-size="17.7" text-anchor="end">10<tspan font-size="11" dy="-9.8">2</tspan></text>
<text x="475.5" y="1055" font-size="17.9" >0</text>
<text x="475.5" y="931.65" font-size="17.9" >1k</text>
<text x="475.5" y="808.3" font-size="17.9" >2k</text>
<text x="277.45" y="1103.8" font-size="22.3" text-anchor="middle" textLength="155" lengthAdjust="spacingAndGlyphs">Voltage <tspan font-style="italic" dx="2.5">V</tspan><tspan font-size="14.5" dy="8.5">SD</tspan><tspan dy="-8.5"> (V)</tspan></text>
<text transform="translate(41.2,910.9) rotate(-90)" font-size="22" text-anchor="middle" textLength="277" lengthAdjust="spacingAndGlyphs">Current density <tspan font-style="italic">J</tspan> (mA cm<tspan font-size="14.5" dy="-11.8">-2</tspan><tspan dy="11.8">)</tspan></text>
<text transform="translate(524,911.8) rotate(-90)" font-size="22" text-anchor="middle" textLength="208" lengthAdjust="spacingAndGlyphs">Luminance <tspan font-style="italic">L</tspan> (cd m<tspan font-size="14.5" dy="-11.8">-2</tspan><tspan dy="11.8">)</tspan></text>
<clipPath id="clipc"><rect x="85.7" y="771.9" width="383.5" height="286.1"/></clipPath>
<g clip-path="url(#clipc)">
<path d="M144.75,1049.6 L215.37,1049.4 L227.14,1048.9 L238.91,1047.7 L250.68,1045.5 L262.45,1041 L274.22,1034.2 L285.99,1024.2 L297.76,1010.6 L309.53,992.5 L321.3,969.4 L333.07,943.8 L344.84,912.3 L356.61,875 L368.38,833.8 L380.15,787.8 L391.92,737" fill="none" stroke="#df2e1c" stroke-width="1.3" stroke-linejoin="round"/>
<circle cx="238.91" cy="1047.7" r="2.85" fill="#fff" stroke="#df2e1c" stroke-width="1.35"/>
<circle cx="250.68" cy="1045.5" r="2.85" fill="#fff" stroke="#df2e1c" stroke-width="1.35"/>
<circle cx="262.45" cy="1041" r="2.85" fill="#fff" stroke="#df2e1c" stroke-width="1.35"/>
<circle cx="274.22" cy="1034.2" r="2.85" fill="#fff" stroke="#df2e1c" stroke-width="1.35"/>
<circle cx="285.99" cy="1024.2" r="2.85" fill="#fff" stroke="#df2e1c" stroke-width="1.35"/>
<circle cx="297.76" cy="1010.6" r="2.85" fill="#fff" stroke="#df2e1c" stroke-width="1.35"/>
<circle cx="309.53" cy="992.5" r="2.85" fill="#fff" stroke="#df2e1c" stroke-width="1.35"/>
<circle cx="321.3" cy="969.4" r="2.85" fill="#fff" stroke="#df2e1c" stroke-width="1.35"/>
<circle cx="333.07" cy="943.8" r="2.85" fill="#fff" stroke="#df2e1c" stroke-width="1.35"/>
<circle cx="344.84" cy="912.3" r="2.85" fill="#fff" stroke="#df2e1c" stroke-width="1.35"/>
<circle cx="356.61" cy="875" r="2.85" fill="#fff" stroke="#df2e1c" stroke-width="1.35"/>
<circle cx="368.38" cy="833.8" r="2.85" fill="#fff" stroke="#df2e1c" stroke-width="1.35"/>
<circle cx="380.15" cy="787.8" r="2.85" fill="#fff" stroke="#df2e1c" stroke-width="1.35"/>
<circle cx="391.92" cy="737" r="2.85" fill="#fff" stroke="#df2e1c" stroke-width="1.35"/>
<path d="M85.9,1049.4 L97.67,1049.4 L109.44,1049.4 L121.21,1049.39 L132.98,1049.39 L144.75,1049.38 L156.52,1049.37 L168.29,1049.35 L180.06,1049.33 L191.83,1049.31 L203.6,1049.28 L215.37,1049.24 L227.14,1049.2 L238.91,1046.2 L250.68,1042.3 L262.45,1035.2 L274.22,1026.1 L285.99,1014.9 L297.76,1000.3 L309.53,988.3 L321.3,973.9 L333.07,958.3 L344.84,942.4 L356.61,926.2 L368.38,909.5 L380.15,892.8 L391.92,875.6 L403.69,858.3 L415.46,841.3 L427.23,824.2 L439,807.2" fill="none" stroke="#111" stroke-width="1.35" stroke-linejoin="round"/>
<circle cx="85.9" cy="1049.4" r="3.55" fill="#111"/>
<circle cx="97.67" cy="1049.4" r="3.55" fill="#111"/>
<circle cx="109.44" cy="1049.4" r="3.55" fill="#111"/>
<circle cx="121.21" cy="1049.39" r="3.55" fill="#111"/>
<circle cx="132.98" cy="1049.39" r="3.55" fill="#111"/>
<circle cx="144.75" cy="1049.38" r="3.55" fill="#111"/>
<circle cx="156.52" cy="1049.37" r="3.55" fill="#111"/>
<circle cx="168.29" cy="1049.35" r="3.55" fill="#111"/>
<circle cx="180.06" cy="1049.33" r="3.55" fill="#111"/>
<circle cx="191.83" cy="1049.31" r="3.55" fill="#111"/>
<circle cx="203.6" cy="1049.28" r="3.55" fill="#111"/>
<circle cx="215.37" cy="1049.24" r="3.55" fill="#111"/>
<circle cx="227.14" cy="1049.2" r="3.55" fill="#111"/>
<circle cx="238.91" cy="1046.2" r="3.55" fill="#111"/>
<circle cx="250.68" cy="1042.3" r="3.55" fill="#111"/>
<circle cx="262.45" cy="1035.2" r="3.55" fill="#111"/>
<circle cx="274.22" cy="1026.1" r="3.55" fill="#111"/>
<circle cx="285.99" cy="1014.9" r="3.55" fill="#111"/>
<circle cx="297.76" cy="1000.3" r="3.55" fill="#111"/>
<circle cx="309.53" cy="988.3" r="3.55" fill="#111"/>
<circle cx="321.3" cy="973.9" r="3.55" fill="#111"/>
<circle cx="333.07" cy="958.3" r="3.55" fill="#111"/>
<circle cx="344.84" cy="942.4" r="3.55" fill="#111"/>
<circle cx="356.61" cy="926.2" r="3.55" fill="#111"/>
<circle cx="368.38" cy="909.5" r="3.55" fill="#111"/>
<circle cx="380.15" cy="892.8" r="3.55" fill="#111"/>
<circle cx="391.92" cy="875.6" r="3.55" fill="#111"/>
<circle cx="403.69" cy="858.3" r="3.55" fill="#111"/>
<circle cx="415.46" cy="841.3" r="3.55" fill="#111"/>
<circle cx="427.23" cy="824.2" r="3.55" fill="#111"/>
<circle cx="439" cy="807.2" r="3.55" fill="#111"/>
<path d="M144.75,1050.4 L156.52,1042.9 L168.29,1035.3 L180.06,1025.9 L191.83,995.9 L203.6,962.5 L215.37,934.7 L227.14,907.1 L238.91,887.5 L250.68,873.2 L262.45,862 L274.22,853.6 L285.99,845.2 L297.76,838.8 L309.53,833.2 L321.3,827.7 L333.07,823.5 L344.84,819.3 L356.61,815.7 L368.38,811.5 L380.15,808.4 L391.92,805.6 L403.69,802.9 L415.46,800.6 L427.23,797.8 L439,795.4" fill="none" stroke="#df2e1c" stroke-width="1.3" stroke-linejoin="round"/>
<circle cx="144.75" cy="1050.4" r="2.85" fill="#fff" stroke="#df2e1c" stroke-width="1.35"/>
<circle cx="156.52" cy="1042.9" r="2.85" fill="#fff" stroke="#df2e1c" stroke-width="1.35"/>
<circle cx="168.29" cy="1035.3" r="2.85" fill="#fff" stroke="#df2e1c" stroke-width="1.35"/>
<circle cx="180.06" cy="1025.9" r="2.85" fill="#fff" stroke="#df2e1c" stroke-width="1.35"/>
<circle cx="191.83" cy="995.9" r="2.85" fill="#fff" stroke="#df2e1c" stroke-width="1.35"/>
<circle cx="203.6" cy="962.5" r="2.85" fill="#fff" stroke="#df2e1c" stroke-width="1.35"/>
<circle cx="215.37" cy="934.7" r="2.85" fill="#fff" stroke="#df2e1c" stroke-width="1.35"/>
<circle cx="227.14" cy="907.1" r="2.85" fill="#fff" stroke="#df2e1c" stroke-width="1.35"/>
<circle cx="238.91" cy="887.5" r="2.85" fill="#fff" stroke="#df2e1c" stroke-width="1.35"/>
<circle cx="250.68" cy="873.2" r="2.85" fill="#fff" stroke="#df2e1c" stroke-width="1.35"/>
<circle cx="262.45" cy="862" r="2.85" fill="#fff" stroke="#df2e1c" stroke-width="1.35"/>
<circle cx="274.22" cy="853.6" r="2.85" fill="#fff" stroke="#df2e1c" stroke-width="1.35"/>
<circle cx="285.99" cy="845.2" r="2.85" fill="#fff" stroke="#df2e1c" stroke-width="1.35"/>
<circle cx="297.76" cy="838.8" r="2.85" fill="#fff" stroke="#df2e1c" stroke-width="1.35"/>
<circle cx="309.53" cy="833.2" r="2.85" fill="#fff" stroke="#df2e1c" stroke-width="1.35"/>
<circle cx="321.3" cy="827.7" r="2.85" fill="#fff" stroke="#df2e1c" stroke-width="1.35"/>
<circle cx="333.07" cy="823.5" r="2.85" fill="#fff" stroke="#df2e1c" stroke-width="1.35"/>
<circle cx="344.84" cy="819.3" r="2.85" fill="#fff" stroke="#df2e1c" stroke-width="1.35"/>
<circle cx="356.61" cy="815.7" r="2.85" fill="#fff" stroke="#df2e1c" stroke-width="1.35"/>
<circle cx="368.38" cy="811.5" r="2.85" fill="#fff" stroke="#df2e1c" stroke-width="1.35"/>
<circle cx="380.15" cy="808.4" r="2.85" fill="#fff" stroke="#df2e1c" stroke-width="1.35"/>
<circle cx="391.92" cy="805.6" r="2.85" fill="#fff" stroke="#df2e1c" stroke-width="1.35"/>
<circle cx="403.69" cy="802.9" r="2.85" fill="#fff" stroke="#df2e1c" stroke-width="1.35"/>
<circle cx="415.46" cy="800.6" r="2.85" fill="#fff" stroke="#df2e1c" stroke-width="1.35"/>
<circle cx="427.23" cy="797.8" r="2.85" fill="#fff" stroke="#df2e1c" stroke-width="1.35"/>
<circle cx="439" cy="795.4" r="2.85" fill="#fff" stroke="#df2e1c" stroke-width="1.35"/>
<path d="M144.75,1035.3 L156.52,1018.2 L168.29,1004.4 L180.06,992 L191.83,979.3 L203.6,959.8 L215.37,929 L227.14,901.7 L238.91,882.9 L250.68,869.5 L262.45,860.8 L274.22,853.5 L285.99,847.5 L297.76,843 L309.53,839.4 L321.3,835.9 L333.07,833.2 L344.84,831 L356.61,828.4 L368.38,826.4 L380.15,824.7 L391.92,823.1 L403.69,821.6 L415.46,820.2 L427.23,818.3 L439,817.6" fill="none" stroke="#111" stroke-width="1.35" stroke-linejoin="round"/>
<circle cx="144.75" cy="1035.3" r="3.55" fill="#111"/>
<circle cx="156.52" cy="1018.2" r="3.55" fill="#111"/>
<circle cx="168.29" cy="1004.4" r="3.55" fill="#111"/>
<circle cx="180.06" cy="992" r="3.55" fill="#111"/>
<circle cx="191.83" cy="979.3" r="3.55" fill="#111"/>
<circle cx="203.6" cy="959.8" r="3.55" fill="#111"/>
<circle cx="215.37" cy="929" r="3.55" fill="#111"/>
<circle cx="227.14" cy="901.7" r="3.55" fill="#111"/>
<circle cx="238.91" cy="882.9" r="3.55" fill="#111"/>
<circle cx="250.68" cy="869.5" r="3.55" fill="#111"/>
<circle cx="262.45" cy="860.8" r="3.55" fill="#111"/>
<circle cx="274.22" cy="853.5" r="3.55" fill="#111"/>
<circle cx="285.99" cy="847.5" r="3.55" fill="#111"/>
<circle cx="297.76" cy="843" r="3.55" fill="#111"/>
<circle cx="309.53" cy="839.4" r="3.55" fill="#111"/>
<circle cx="321.3" cy="835.9" r="3.55" fill="#111"/>
<circle cx="333.07" cy="833.2" r="3.55" fill="#111"/>
<circle cx="344.84" cy="831" r="3.55" fill="#111"/>
<circle cx="356.61" cy="828.4" r="3.55" fill="#111"/>
<circle cx="368.38" cy="826.4" r="3.55" fill="#111"/>
<circle cx="380.15" cy="824.7" r="3.55" fill="#111"/>
<circle cx="391.92" cy="823.1" r="3.55" fill="#111"/>
<circle cx="403.69" cy="821.6" r="3.55" fill="#111"/>
<circle cx="415.46" cy="820.2" r="3.55" fill="#111"/>
<circle cx="427.23" cy="818.3" r="3.55" fill="#111"/>
<circle cx="439" cy="817.6" r="3.55" fill="#111"/>
</g>
<path d="M190,969.0 A21.5,21.5 0 1 0 209.93,998.55" fill="none" stroke="#111" stroke-width="1.8"/>
<line x1="190" y1="969.4" x2="128" y2="969.4" stroke="#111" stroke-width="1.7" />
<polygon points="110.3,969.6 129.7,964.8 129.7,974.4" fill="#111"/>
<path d="M306.86,965.55 A16.8,24.6 0 1 1 309.73,1005.3" fill="none" stroke="#111" stroke-width="1.8"/>
<line x1="318" y1="1008.1" x2="371" y2="1008.1" stroke="#111" stroke-width="1.7" />
<polygon points="388.6,1008.1 369.3,1003.5 369.3,1012.7" fill="#111"/>
<line x1="106" y1="801.4" x2="145.9" y2="801.4" stroke="#111" stroke-width="1.3" />
<circle cx="125.8" cy="801.5" r="4.85" fill="#111"/>
<line x1="106" y1="829.7" x2="145.9" y2="829.7" stroke="#df2e1c" stroke-width="1.3" />
<circle cx="125.8" cy="829.7" r="4.2" fill="#fff" stroke="#df2e1c" stroke-width="1.3"/>
<text x="155.3" y="807.8" font-size="18.6" textLength="87.5" lengthAdjust="spacingAndGlyphs">Gr-VOLET</text>
<text x="243.3" y="809.6" font-size="14" >1</text>
<text x="155.8" y="837.0" font-size="18.6" textLength="87.5" lengthAdjust="spacingAndGlyphs">ITO-OLED</text>
<text x="244.3" y="838.8" font-size="14" >1</text>
<rect x="604.4" y="771.4" width="382.4" height="281.1" fill="none" stroke="#1a1a1a" stroke-width="1.6"/>
<line x1="681" y1="1052.5" x2="681" y2="1046.5" stroke="#1a1a1a" stroke-width="1.4" />
<line x1="757.5" y1="1052.5" x2="757.5" y2="1046.5" stroke="#1a1a1a" stroke-width="1.4" />
<line x1="834" y1="1052.5" x2="834" y2="1046.5" stroke="#1a1a1a" stroke-width="1.4" />
<line x1="910.5" y1="1052.5" x2="910.5" y2="1046.5" stroke="#1a1a1a" stroke-width="1.4" />
<line x1="642.75" y1="1052.5" x2="642.75" y2="1049.2" stroke="#1a1a1a" stroke-width="1.4" />
<line x1="719.25" y1="1052.5" x2="719.25" y2="1049.2" stroke="#1a1a1a" stroke-width="1.4" />
<line x1="795.75" y1="1052.5" x2="795.75" y2="1049.2" stroke="#1a1a1a" stroke-width="1.4" />
<line x1="872.25" y1="1052.5" x2="872.25" y2="1049.2" stroke="#1a1a1a" stroke-width="1.4" />
<line x1="948.75" y1="1052.5" x2="948.75" y2="1049.2" stroke="#1a1a1a" stroke-width="1.4" />
<line x1="604.4" y1="982.2" x2="610.2" y2="982.2" stroke="#1a1a1a" stroke-width="1.4" />
<line x1="604.4" y1="912" x2="610.2" y2="912" stroke="#1a1a1a" stroke-width="1.4" />
<line x1="604.4" y1="841.8" x2="610.2" y2="841.8" stroke="#1a1a1a" stroke-width="1.4" />
<line x1="604.4" y1="1017.3" x2="607.7" y2="1017.3" stroke="#1a1a1a" stroke-width="1.4" />
<line x1="604.4" y1="947.1" x2="607.7" y2="947.1" stroke="#1a1a1a" stroke-width="1.4" />
<line x1="604.4" y1="876.9" x2="607.7" y2="876.9" stroke="#1a1a1a" stroke-width="1.4" />
<line x1="604.4" y1="806.7" x2="607.7" y2="806.7" stroke="#1a1a1a" stroke-width="1.4" />
<text x="604.5" y="1078.3" font-size="17.9" text-anchor="middle" >0</text>
<text x="681" y="1078.3" font-size="17.9" text-anchor="middle" >500</text>
<text x="757.5" y="1078.3" font-size="17.9" text-anchor="middle" >1000</text>
<text x="834" y="1078.3" font-size="17.9" text-anchor="middle" >1500</text>
<text x="910.5" y="1078.3" font-size="17.9" text-anchor="middle" >2000</text>
<text x="987" y="1078.3" font-size="17.9" text-anchor="middle" >2500</text>
<text x="594.6" y="1058.6" font-size="17.9" text-anchor="end" >0</text>
<text x="594.6" y="988.4" font-size="17.9" text-anchor="end" >2</text>
<text x="594.6" y="918.2" font-size="17.9" text-anchor="end" >4</text>
<text x="594.6" y="848" font-size="17.9" text-anchor="end" >6</text>
<text x="594.6" y="777.8" font-size="17.9" text-anchor="end" >8</text>
<text x="795.5" y="1107.3" font-size="22.5" text-anchor="middle" textLength="213" lengthAdjust="spacingAndGlyphs">Luminance <tspan font-style="italic">L</tspan> (cd m<tspan font-size="14.5" dy="-11.8">-2</tspan><tspan dy="11.8">)</tspan></text>
<text transform="translate(564.7,911) rotate(-90)" font-size="22" text-anchor="middle" textLength="257" lengthAdjust="spacingAndGlyphs">Current efficiency (cd A<tspan font-size="14.5" dy="-11.8">-1</tspan><tspan dy="11.8">)</tspan></text>
<clipPath id="clipd"><rect x="604.4" y="771.4" width="382.4" height="280.2"/></clipPath>
<g clip-path="url(#clipd)">
<path d="M605.5,994 L606.2,966.4 L608.1,943.8 L613.9,920.4 L622.3,908.8 L634.9,898.3 L651.6,892.9 L673.9,889.5 L701.8,888.1 L734.6,888.6 L773.8,889.6 L819.3,890.9 L870.9,893 L928.3,895.4 L994.6,898.2" fill="none" stroke="#df2e1c" stroke-width="1.3" stroke-linejoin="round"/>
<circle cx="605.5" cy="994" r="2.9" fill="#fff" stroke="#df2e1c" stroke-width="1.4"/>
<circle cx="606.2" cy="966.4" r="2.9" fill="#fff" stroke="#df2e1c" stroke-width="1.4"/>
<circle cx="608.1" cy="943.8" r="2.9" fill="#fff" stroke="#df2e1c" stroke-width="1.4"/>
<circle cx="613.9" cy="920.4" r="2.9" fill="#fff" stroke="#df2e1c" stroke-width="1.4"/>
<circle cx="622.3" cy="908.8" r="2.9" fill="#fff" stroke="#df2e1c" stroke-width="1.4"/>
<circle cx="634.9" cy="898.3" r="2.9" fill="#fff" stroke="#df2e1c" stroke-width="1.4"/>
<circle cx="651.6" cy="892.9" r="2.9" fill="#fff" stroke="#df2e1c" stroke-width="1.4"/>
<circle cx="673.9" cy="889.5" r="2.9" fill="#fff" stroke="#df2e1c" stroke-width="1.4"/>
<circle cx="701.8" cy="888.1" r="2.9" fill="#fff" stroke="#df2e1c" stroke-width="1.4"/>
<circle cx="734.6" cy="888.6" r="2.9" fill="#fff" stroke="#df2e1c" stroke-width="1.4"/>
<circle cx="773.8" cy="889.6" r="2.9" fill="#fff" stroke="#df2e1c" stroke-width="1.4"/>
<circle cx="819.3" cy="890.9" r="2.9" fill="#fff" stroke="#df2e1c" stroke-width="1.4"/>
<circle cx="870.9" cy="893" r="2.9" fill="#fff" stroke="#df2e1c" stroke-width="1.4"/>
<circle cx="928.3" cy="895.4" r="2.9" fill="#fff" stroke="#df2e1c" stroke-width="1.4"/>
<path d="M605.4,1051.3 L606.2,963.2 L607.3,903.5 L612.5,866.5 L620.9,842 L632.4,825.8 L646.4,814.7 L664.1,806.3 L679.4,802.4 L697.5,798.6 L716.7,796.1 L736.8,794.4 L756.2,793.9 L777.1,793.8 L798.2,793.8 L819.3,793.8 L840.5,794.4 L862.2,794.9 L882.8,796.2 L904.2,797.5" fill="none" stroke="#111" stroke-width="1.35" stroke-linejoin="round"/>
<circle cx="605.4" cy="1051.3" r="3.5" fill="#111"/>
<circle cx="606.2" cy="963.2" r="3.5" fill="#111"/>
<circle cx="607.3" cy="903.5" r="3.5" fill="#111"/>
<circle cx="612.5" cy="866.5" r="3.5" fill="#111"/>
<circle cx="620.9" cy="842" r="3.5" fill="#111"/>
<circle cx="632.4" cy="825.8" r="3.5" fill="#111"/>
<circle cx="646.4" cy="814.7" r="3.5" fill="#111"/>
<circle cx="664.1" cy="806.3" r="3.5" fill="#111"/>
<circle cx="679.4" cy="802.4" r="3.5" fill="#111"/>
<circle cx="697.5" cy="798.6" r="3.5" fill="#111"/>
<circle cx="716.7" cy="796.1" r="3.5" fill="#111"/>
<circle cx="736.8" cy="794.4" r="3.5" fill="#111"/>
<circle cx="756.2" cy="793.9" r="3.5" fill="#111"/>
<circle cx="777.1" cy="793.8" r="3.5" fill="#111"/>
<circle cx="798.2" cy="793.8" r="3.5" fill="#111"/>
<circle cx="819.3" cy="793.8" r="3.5" fill="#111"/>
<circle cx="840.5" cy="794.4" r="3.5" fill="#111"/>
<circle cx="862.2" cy="794.9" r="3.5" fill="#111"/>
<circle cx="882.8" cy="796.2" r="3.5" fill="#111"/>
<circle cx="904.2" cy="797.5" r="3.5" fill="#111"/>
</g>
<line x1="680.6" y1="886.3" x2="680.6" y2="817.4" stroke="#0b74bd" stroke-width="1.6" />
<polygon points="675.9,818.9 685.3,818.9 680.6,804.9" fill="#0b74bd"/>
<line x1="755.6" y1="885.7" x2="755.6" y2="810.3" stroke="#0b74bd" stroke-width="1.6" />
<polygon points="750.9,811.8 760.3,811.8 755.6,797.6" fill="#0b74bd"/>
<text x="685.2" y="854.8" font-size="17.8" >(154 %)</text>
<text x="760.2" y="848.1" font-size="17.8" >(158 %)</text>
<text x="894.2" y="849.1" font-size="17.3" font-style="italic">V</text>
<text x="904.6" y="853.6" font-size="11.5" >SD</text>
<text x="923" y="849.1" font-size="17.3" >= 6.0 V</text>
<line x1="925.8" y1="828.6" x2="910" y2="808.3" stroke="#111" stroke-width="1.5" />
<polygon points="906.9,803.9 914.9,809.4 910.4,810.9" fill="#fff" stroke="#111" stroke-width="1.3" stroke-linejoin="miter"/>
<line x1="824.3" y1="994.8" x2="864" y2="994.8" stroke="#111" stroke-width="1.35" />
<circle cx="844.1" cy="994.9" r="4.9" fill="#111"/>
<line x1="824.3" y1="1023.2" x2="864" y2="1023.2" stroke="#df2e1c" stroke-width="1.35" />
<circle cx="844.1" cy="1023.2" r="4.25" fill="#fff" stroke="#df2e1c" stroke-width="1.3"/>
<text x="873.9" y="1001.7" font-size="17.8" textLength="86.3" lengthAdjust="spacingAndGlyphs">Gr-VOLET</text>
<text x="961.2" y="1002.8" font-size="13" >1</text>
<text x="874.4" y="1030.4" font-size="17.8" textLength="86.3" lengthAdjust="spacingAndGlyphs">ITO-OLED</text>
<text x="962" y="1031.6" font-size="13" >1</text>
</svg></body></html>
